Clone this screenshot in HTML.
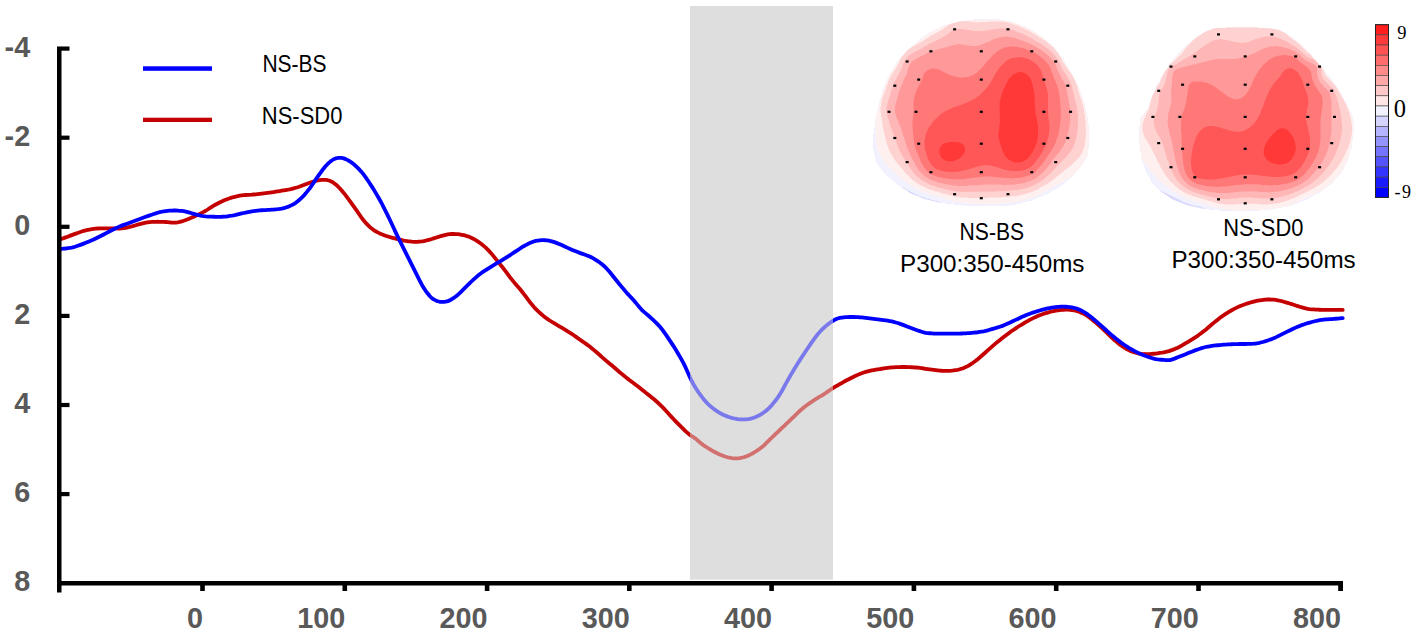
<!DOCTYPE html>
<html><head><meta charset="utf-8"><style>
html,body{margin:0;padding:0;background:#fff;}
body{width:1418px;height:636px;overflow:hidden;position:relative;}
svg{position:absolute;left:0;top:0;}
.tl{font-family:"Liberation Sans",sans-serif;font-weight:bold;fill:#595959;font-size:28.8px;}
.lg{font-family:"Liberation Sans",sans-serif;fill:#000;font-size:23px;}
.cb{font-family:"Liberation Serif",serif;fill:#000;}
</style></head><body>
<svg width="1418" height="636" viewBox="0 0 1418 636">
<defs><clipPath id="gc"><rect x="690" y="6" width="143" height="573.5"/></clipPath></defs>
<rect x="690" y="6" width="143" height="573.5" fill="#dedede"/>
<g fill="none" stroke-width="3.8" stroke-linejoin="round" stroke-linecap="round">
<path d="M59.7,239.28 L61.7,238.79 L63.7,238.13 L65.7,237.41 L67.7,236.66 L69.7,235.90 L71.7,235.14 L73.7,234.39 L75.7,233.65 L77.7,232.93 L79.7,232.21 L81.7,231.52 L83.7,230.90 L85.7,230.38 L87.7,229.93 L89.7,229.55 L91.7,229.24 L93.7,228.95 L95.7,228.69 L97.7,228.48 L99.7,228.35 L101.7,228.31 L103.7,228.30 L105.7,228.30 L107.7,228.30 L109.7,228.31 L111.7,228.34 L113.7,228.40 L115.7,228.47 L117.7,228.54 L119.7,228.55 L121.7,228.42 L123.7,228.13 L125.7,227.76 L127.7,227.35 L129.7,226.91 L131.7,226.40 L133.7,225.84 L135.7,225.25 L137.7,224.66 L139.7,224.10 L141.7,223.56 L143.7,223.06 L145.7,222.61 L147.7,222.26 L149.7,222.06 L151.7,221.96 L153.7,221.88 L155.7,221.82 L157.7,221.77 L159.7,221.78 L161.7,221.83 L163.7,221.91 L165.7,222.01 L167.7,222.17 L169.7,222.41 L171.7,222.64 L173.7,222.72 L175.7,222.58 L177.7,222.29 L179.7,221.88 L181.7,221.34 L183.7,220.71 L185.7,220.02 L187.7,219.27 L189.7,218.45 L191.7,217.59 L193.7,216.72 L195.7,215.82 L197.7,214.88 L199.7,213.91 L201.7,212.92 L203.7,211.88 L205.7,210.74 L207.7,209.50 L209.7,208.20 L211.7,206.90 L213.7,205.66 L215.7,204.52 L217.7,203.48 L219.7,202.48 L221.7,201.51 L223.7,200.60 L225.7,199.78 L227.7,199.03 L229.7,198.31 L231.7,197.63 L233.7,197.03 L235.7,196.54 L237.7,196.11 L239.7,195.72 L241.7,195.38 L243.7,195.13 L245.7,194.99 L247.7,194.89 L249.7,194.79 L251.7,194.67 L253.7,194.50 L255.7,194.29 L257.7,194.06 L259.7,193.82 L261.7,193.59 L263.7,193.35 L265.7,193.12 L267.7,192.88 L269.7,192.63 L271.7,192.35 L273.7,192.04 L275.7,191.71 L277.7,191.37 L279.7,191.04 L281.7,190.71 L283.7,190.39 L285.7,190.07 L287.7,189.73 L289.7,189.34 L291.7,188.87 L293.7,188.34 L295.7,187.79 L297.7,187.21 L299.7,186.55 L301.7,185.82 L303.7,185.04 L305.7,184.25 L307.7,183.48 L309.7,182.78 L311.7,182.15 L313.7,181.54 L315.7,180.98 L317.7,180.49 L319.7,180.15 L321.7,179.94 L323.7,179.84 L325.7,179.90 L327.7,180.21 L329.7,180.79 L331.7,181.67 L333.7,182.90 L335.7,184.42 L337.7,186.22 L339.7,188.30 L341.7,190.54 L343.7,192.90 L345.7,195.41 L347.7,198.06 L349.7,200.78 L351.7,203.52 L353.7,206.28 L355.7,209.12 L357.7,212.05 L359.7,215.01 L361.7,217.88 L363.7,220.51 L365.7,222.81 L367.7,224.88 L369.7,226.83 L371.7,228.58 L373.7,230.04 L375.7,231.27 L377.7,232.39 L379.7,233.43 L381.7,234.32 L383.7,235.08 L385.7,235.77 L387.7,236.43 L389.7,237.03 L391.7,237.59 L393.7,238.11 L395.7,238.63 L397.7,239.13 L399.7,239.61 L401.7,240.08 L403.7,240.54 L405.7,240.93 L407.7,241.24 L409.7,241.48 L411.7,241.68 L413.7,241.82 L415.7,241.84 L417.7,241.76 L419.7,241.62 L421.7,241.42 L423.7,241.10 L425.7,240.65 L427.7,240.12 L429.7,239.57 L431.7,238.99 L433.7,238.36 L435.7,237.72 L437.7,237.07 L439.7,236.44 L441.7,235.86 L443.7,235.30 L445.7,234.79 L447.7,234.36 L449.7,234.11 L451.7,234.02 L453.7,234.01 L455.7,234.05 L457.7,234.18 L459.7,234.43 L461.7,234.78 L463.7,235.19 L465.7,235.69 L467.7,236.32 L469.7,237.08 L471.7,237.95 L473.7,238.95 L475.7,240.10 L477.7,241.36 L479.7,242.74 L481.7,244.25 L483.7,245.88 L485.7,247.65 L487.7,249.58 L489.7,251.66 L491.7,253.90 L493.7,256.34 L495.7,258.88 L497.7,261.40 L499.7,263.86 L501.7,266.29 L503.7,268.79 L505.7,271.43 L507.7,274.15 L509.7,276.85 L511.7,279.42 L513.7,281.87 L515.7,284.23 L517.7,286.50 L519.7,288.79 L521.7,291.22 L523.7,293.81 L525.7,296.47 L527.7,299.15 L529.7,301.79 L531.7,304.32 L533.7,306.69 L535.7,308.86 L537.7,310.86 L539.7,312.73 L541.7,314.48 L543.7,316.15 L545.7,317.72 L547.7,319.16 L549.7,320.49 L551.7,321.74 L553.7,322.94 L555.7,324.13 L557.7,325.31 L559.7,326.51 L561.7,327.71 L563.7,328.92 L565.7,330.13 L567.7,331.34 L569.7,332.60 L571.7,333.91 L573.7,335.28 L575.7,336.67 L577.7,338.07 L579.7,339.47 L581.7,340.86 L583.7,342.26 L585.7,343.66 L587.7,345.09 L589.7,346.59 L591.7,348.18 L593.7,349.84 L595.7,351.56 L597.7,353.30 L599.7,355.05 L601.7,356.81 L603.7,358.58 L605.7,360.32 L607.7,362.01 L609.7,363.66 L611.7,365.31 L613.7,367.01 L615.7,368.76 L617.7,370.50 L619.7,372.21 L621.7,373.86 L623.7,375.49 L625.7,377.13 L627.7,378.76 L629.7,380.35 L631.7,381.85 L633.7,383.29 L635.7,384.74 L637.7,386.24 L639.7,387.81 L641.7,389.39 L643.7,391.00 L645.7,392.61 L647.7,394.22 L649.7,395.83 L651.7,397.43 L653.7,399.04 L655.7,400.72 L657.7,402.48 L659.7,404.32 L661.7,406.29 L663.7,408.39 L665.7,410.58 L667.7,412.79 L669.7,414.99 L671.7,417.16 L673.7,419.30 L675.7,421.37 L677.7,423.40 L679.7,425.40 L681.7,427.40 L683.7,429.38 L685.7,431.31 L687.7,433.09 L689.7,434.69 L691.7,436.11 L693.7,437.42 L695.7,438.81 L697.7,440.45 L699.7,442.23 L701.7,443.88 L703.7,445.36 L705.7,446.72 L707.7,448.01 L709.7,449.24 L711.7,450.41 L713.7,451.52 L715.7,452.56 L717.7,453.54 L719.7,454.46 L721.7,455.29 L723.7,456.05 L725.7,456.72 L727.7,457.28 L729.7,457.74 L731.7,458.09 L733.7,458.31 L735.7,458.41 L737.7,458.36 L739.7,458.13 L741.7,457.73 L743.7,457.22 L745.7,456.57 L747.7,455.80 L749.7,454.91 L751.7,453.88 L753.7,452.73 L755.7,451.49 L757.7,450.19 L759.7,448.80 L761.7,447.30 L763.7,445.59 L765.7,443.68 L767.7,441.67 L769.7,439.68 L771.7,437.75 L773.7,435.83 L775.7,433.93 L777.7,432.02 L779.7,430.12 L781.7,428.23 L783.7,426.35 L785.7,424.47 L787.7,422.57 L789.7,420.66 L791.7,418.72 L793.7,416.78 L795.7,414.83 L797.7,412.88 L799.7,411.00 L801.7,409.23 L803.7,407.58 L805.7,406.00 L807.7,404.51 L809.7,403.08 L811.7,401.71 L813.7,400.40 L815.7,399.16 L817.7,397.95 L819.7,396.74 L821.7,395.53 L823.7,394.29 L825.7,392.99 L827.7,391.62 L829.7,390.20 L831.7,388.84 L833.7,387.60 L835.7,386.45 L837.7,385.33 L839.7,384.19 L841.7,383.03 L843.7,381.88 L845.7,380.77 L847.7,379.72 L849.7,378.70 L851.7,377.71 L853.7,376.74 L855.7,375.80 L857.7,374.88 L859.7,374.01 L861.7,373.21 L863.7,372.51 L865.7,371.90 L867.7,371.39 L869.7,370.92 L871.7,370.47 L873.7,370.07 L875.7,369.71 L877.7,369.38 L879.7,369.06 L881.7,368.75 L883.7,368.45 L885.7,368.17 L887.7,367.90 L889.7,367.66 L891.7,367.46 L893.7,367.32 L895.7,367.20 L897.7,367.10 L899.7,367.04 L901.7,367.01 L903.7,367.00 L905.7,367.01 L907.7,367.05 L909.7,367.12 L911.7,367.23 L913.7,367.35 L915.7,367.50 L917.7,367.70 L919.7,367.95 L921.7,368.23 L923.7,368.50 L925.7,368.78 L927.7,369.06 L929.7,369.33 L931.7,369.61 L933.7,369.87 L935.7,370.12 L937.7,370.35 L939.7,370.57 L941.7,370.75 L943.7,370.86 L945.7,370.89 L947.7,370.89 L949.7,370.84 L951.7,370.70 L953.7,370.45 L955.7,370.13 L957.7,369.77 L959.7,369.30 L961.7,368.66 L963.7,367.91 L965.7,367.09 L967.7,366.15 L969.7,365.01 L971.7,363.70 L973.7,362.30 L975.7,360.84 L977.7,359.26 L979.7,357.56 L981.7,355.79 L983.7,354.00 L985.7,352.21 L987.7,350.42 L989.7,348.63 L991.7,346.84 L993.7,345.10 L995.7,343.41 L997.7,341.78 L999.7,340.17 L1001.7,338.58 L1003.7,337.00 L1005.7,335.45 L1007.7,333.94 L1009.7,332.48 L1011.7,331.07 L1013.7,329.69 L1015.7,328.33 L1017.7,327.02 L1019.7,325.76 L1021.7,324.54 L1023.7,323.34 L1025.7,322.17 L1027.7,321.04 L1029.7,319.95 L1031.7,318.88 L1033.7,317.86 L1035.7,316.93 L1037.7,316.09 L1039.7,315.29 L1041.7,314.52 L1043.7,313.81 L1045.7,313.17 L1047.7,312.56 L1049.7,311.98 L1051.7,311.47 L1053.7,311.04 L1055.7,310.69 L1057.7,310.37 L1059.7,310.09 L1061.7,309.89 L1063.7,309.76 L1065.7,309.67 L1067.7,309.64 L1069.7,309.74 L1071.7,310.00 L1073.7,310.35 L1075.7,310.76 L1077.7,311.31 L1079.7,312.04 L1081.7,312.91 L1083.7,313.85 L1085.7,314.92 L1087.7,316.20 L1089.7,317.69 L1091.7,319.28 L1093.7,320.91 L1095.7,322.60 L1097.7,324.34 L1099.7,326.13 L1101.7,327.94 L1103.7,329.80 L1105.7,331.72 L1107.7,333.70 L1109.7,335.68 L1111.7,337.61 L1113.7,339.45 L1115.7,341.19 L1117.7,342.88 L1119.7,344.50 L1121.7,345.97 L1123.7,347.28 L1125.7,348.50 L1127.7,349.64 L1129.7,350.65 L1131.7,351.47 L1133.7,352.14 L1135.7,352.75 L1137.7,353.27 L1139.7,353.63 L1141.7,353.86 L1143.7,354.02 L1145.7,354.13 L1147.7,354.15 L1149.7,354.06 L1151.7,353.91 L1153.7,353.74 L1155.7,353.53 L1157.7,353.27 L1159.7,352.98 L1161.7,352.68 L1163.7,352.33 L1165.7,351.92 L1167.7,351.43 L1169.7,350.85 L1171.7,350.16 L1173.7,349.39 L1175.7,348.56 L1177.7,347.68 L1179.7,346.68 L1181.7,345.57 L1183.7,344.41 L1185.7,343.23 L1187.7,342.05 L1189.7,340.85 L1191.7,339.64 L1193.7,338.41 L1195.7,337.12 L1197.7,335.74 L1199.7,334.30 L1201.7,332.82 L1203.7,331.29 L1205.7,329.68 L1207.7,327.99 L1209.7,326.26 L1211.7,324.53 L1213.7,322.85 L1215.7,321.23 L1217.7,319.64 L1219.7,318.07 L1221.7,316.58 L1223.7,315.19 L1225.7,313.88 L1227.7,312.60 L1229.7,311.38 L1231.7,310.23 L1233.7,309.15 L1235.7,308.12 L1237.7,307.13 L1239.7,306.23 L1241.7,305.45 L1243.7,304.73 L1245.7,304.04 L1247.7,303.39 L1249.7,302.77 L1251.7,302.18 L1253.7,301.62 L1255.7,301.10 L1257.7,300.67 L1259.7,300.33 L1261.7,300.02 L1263.7,299.76 L1265.7,299.59 L1267.7,299.52 L1269.7,299.51 L1271.7,299.54 L1273.7,299.67 L1275.7,299.95 L1277.7,300.32 L1279.7,300.75 L1281.7,301.21 L1283.7,301.73 L1285.7,302.30 L1287.7,302.90 L1289.7,303.52 L1291.7,304.15 L1293.7,304.80 L1295.7,305.47 L1297.7,306.12 L1299.7,306.74 L1301.7,307.32 L1303.7,307.86 L1305.7,308.38 L1307.7,308.82 L1309.7,309.13 L1311.7,309.32 L1313.7,309.47 L1315.7,309.59 L1317.7,309.69 L1319.7,309.76 L1321.7,309.81 L1323.7,309.85 L1325.7,309.88 L1327.7,309.90 L1329.7,309.90 L1331.7,309.90 L1333.7,309.90 L1335.7,309.90 L1337.7,309.90 L1339.7,309.90 L1341.7,309.90 L1342.7,309.90" stroke="#c40000"/>
<path d="M59.7,249.02 L61.7,248.90 L63.7,248.72 L65.7,248.51 L67.7,248.23 L69.7,247.91 L71.7,247.54 L73.7,247.08 L75.7,246.50 L77.7,245.82 L79.7,245.10 L81.7,244.37 L83.7,243.61 L85.7,242.82 L87.7,242.02 L89.7,241.20 L91.7,240.36 L93.7,239.46 L95.7,238.51 L97.7,237.52 L99.7,236.53 L101.7,235.52 L103.7,234.47 L105.7,233.40 L107.7,232.32 L109.7,231.25 L111.7,230.21 L113.7,229.23 L115.7,228.28 L117.7,227.35 L119.7,226.45 L121.7,225.63 L123.7,224.88 L125.7,224.17 L127.7,223.47 L129.7,222.76 L131.7,222.03 L133.7,221.27 L135.7,220.51 L137.7,219.75 L139.7,218.99 L141.7,218.25 L143.7,217.53 L145.7,216.80 L147.7,216.09 L149.7,215.38 L151.7,214.70 L153.7,214.02 L155.7,213.36 L157.7,212.73 L159.7,212.19 L161.7,211.74 L163.7,211.34 L165.7,211.02 L167.7,210.80 L169.7,210.67 L171.7,210.58 L173.7,210.52 L175.7,210.52 L177.7,210.61 L179.7,210.78 L181.7,210.98 L183.7,211.22 L185.7,211.59 L187.7,212.10 L189.7,212.69 L191.7,213.30 L193.7,213.88 L195.7,214.42 L197.7,214.91 L199.7,215.38 L201.7,215.81 L203.7,216.17 L205.7,216.40 L207.7,216.53 L209.7,216.62 L211.7,216.69 L213.7,216.75 L215.7,216.79 L217.7,216.80 L219.7,216.80 L221.7,216.77 L223.7,216.69 L225.7,216.52 L227.7,216.27 L229.7,215.99 L231.7,215.69 L233.7,215.33 L235.7,214.90 L237.7,214.42 L239.7,213.94 L241.7,213.47 L243.7,213.02 L245.7,212.60 L247.7,212.20 L249.7,211.81 L251.7,211.45 L253.7,211.15 L255.7,210.89 L257.7,210.66 L259.7,210.44 L261.7,210.26 L263.7,210.13 L265.7,210.03 L267.7,209.94 L269.7,209.84 L271.7,209.70 L273.7,209.54 L275.7,209.35 L277.7,209.15 L279.7,208.89 L281.7,208.53 L283.7,208.07 L285.7,207.54 L287.7,206.89 L289.7,206.08 L291.7,205.13 L293.7,204.06 L295.7,202.80 L297.7,201.27 L299.7,199.56 L301.7,197.71 L303.7,195.64 L305.7,193.34 L307.7,190.88 L309.7,188.31 L311.7,185.55 L313.7,182.62 L315.7,179.62 L317.7,176.67 L319.7,173.82 L321.7,171.08 L323.7,168.44 L325.7,166.03 L327.7,163.94 L329.7,162.11 L331.7,160.50 L333.7,159.24 L335.7,158.43 L337.7,157.98 L339.7,157.83 L341.7,157.97 L343.7,158.39 L345.7,159.11 L347.7,160.09 L349.7,161.24 L351.7,162.57 L353.7,164.17 L355.7,165.98 L357.7,167.91 L359.7,169.94 L361.7,172.14 L363.7,174.61 L365.7,177.36 L367.7,180.29 L369.7,183.29 L371.7,186.38 L373.7,189.59 L375.7,192.89 L377.7,196.26 L379.7,199.74 L381.7,203.43 L383.7,207.32 L385.7,211.31 L387.7,215.36 L389.7,219.51 L391.7,223.76 L393.7,228.07 L395.7,232.36 L397.7,236.57 L399.7,240.67 L401.7,244.70 L403.7,248.70 L405.7,252.70 L407.7,256.70 L409.7,260.70 L411.7,264.70 L413.7,268.70 L415.7,272.70 L417.7,276.70 L419.7,280.66 L421.7,284.45 L423.7,287.85 L425.7,290.81 L427.7,293.51 L429.7,295.98 L431.7,297.99 L433.7,299.39 L435.7,300.40 L437.7,301.21 L439.7,301.77 L441.7,301.97 L443.7,301.88 L445.7,301.64 L447.7,301.19 L449.7,300.38 L451.7,299.25 L453.7,297.95 L455.7,296.54 L457.7,294.94 L459.7,293.13 L461.7,291.19 L463.7,289.20 L465.7,287.20 L467.7,285.20 L469.7,283.21 L471.7,281.26 L473.7,279.37 L475.7,277.57 L477.7,275.84 L479.7,274.24 L481.7,272.77 L483.7,271.38 L485.7,270.05 L487.7,268.78 L489.7,267.55 L491.7,266.33 L493.7,265.11 L495.7,263.91 L497.7,262.71 L499.7,261.53 L501.7,260.34 L503.7,259.13 L505.7,257.88 L507.7,256.59 L509.7,255.29 L511.7,253.99 L513.7,252.69 L515.7,251.38 L517.7,250.06 L519.7,248.74 L521.7,247.45 L523.7,246.24 L525.7,245.11 L527.7,244.06 L529.7,243.09 L531.7,242.24 L533.7,241.49 L535.7,240.92 L537.7,240.55 L539.7,240.33 L541.7,240.22 L543.7,240.19 L545.7,240.27 L547.7,240.46 L549.7,240.81 L551.7,241.31 L553.7,241.92 L555.7,242.61 L557.7,243.38 L559.7,244.21 L561.7,245.08 L563.7,245.99 L565.7,246.92 L567.7,247.85 L569.7,248.77 L571.7,249.65 L573.7,250.48 L575.7,251.30 L577.7,252.10 L579.7,252.88 L581.7,253.61 L583.7,254.30 L585.7,254.97 L587.7,255.68 L589.7,256.49 L591.7,257.47 L593.7,258.60 L595.7,259.82 L597.7,261.12 L599.7,262.51 L601.7,264.02 L603.7,265.73 L605.7,267.65 L607.7,269.72 L609.7,272.00 L611.7,274.47 L613.7,277.02 L615.7,279.55 L617.7,282.01 L619.7,284.44 L621.7,286.86 L623.7,289.27 L625.7,291.64 L627.7,293.92 L629.7,296.06 L631.7,298.14 L633.7,300.31 L635.7,302.65 L637.7,305.13 L639.7,307.57 L641.7,309.78 L643.7,311.66 L645.7,313.34 L647.7,315.01 L649.7,316.75 L651.7,318.55 L653.7,320.40 L655.7,322.33 L657.7,324.35 L659.7,326.52 L661.7,328.94 L663.7,331.61 L665.7,334.44 L667.7,337.37 L669.7,340.35 L671.7,343.34 L673.7,346.39 L675.7,349.56 L677.7,352.92 L679.7,356.40 L681.7,359.94 L683.7,363.63 L685.7,367.69 L687.7,372.18 L689.7,376.76 L691.7,381.00 L693.7,384.74 L695.7,388.07 L697.7,391.14 L699.7,394.01 L701.7,396.68 L703.7,399.22 L705.7,401.59 L707.7,403.71 L709.7,405.58 L711.7,407.30 L713.7,408.88 L715.7,410.34 L717.7,411.68 L719.7,412.90 L721.7,413.99 L723.7,414.98 L725.7,415.86 L727.7,416.62 L729.7,417.28 L731.7,417.86 L733.7,418.35 L735.7,418.75 L737.7,419.07 L739.7,419.29 L741.7,419.42 L743.7,419.45 L745.7,419.36 L747.7,419.15 L749.7,418.83 L751.7,418.35 L753.7,417.73 L755.7,416.99 L757.7,416.09 L759.7,415.04 L761.7,413.86 L763.7,412.51 L765.7,410.99 L767.7,409.29 L769.7,407.36 L771.7,405.16 L773.7,402.79 L775.7,400.27 L777.7,397.57 L779.7,394.61 L781.7,391.29 L783.7,387.66 L785.7,383.94 L787.7,380.31 L789.7,376.78 L791.7,373.33 L793.7,369.97 L795.7,366.72 L797.7,363.53 L799.7,360.37 L801.7,357.25 L803.7,354.19 L805.7,351.20 L807.7,348.25 L809.7,345.31 L811.7,342.40 L813.7,339.54 L815.7,336.81 L817.7,334.28 L819.7,331.99 L821.7,329.91 L823.7,327.97 L825.7,326.15 L827.7,324.47 L829.7,322.95 L831.7,321.58 L833.7,320.35 L835.7,319.30 L837.7,318.51 L839.7,317.94 L841.7,317.55 L843.7,317.31 L845.7,317.17 L847.7,317.07 L849.7,317.00 L851.7,316.97 L853.7,317.00 L855.7,317.07 L857.7,317.16 L859.7,317.27 L861.7,317.44 L863.7,317.67 L865.7,317.93 L867.7,318.20 L869.7,318.47 L871.7,318.72 L873.7,318.96 L875.7,319.19 L877.7,319.42 L879.7,319.66 L881.7,319.91 L883.7,320.18 L885.7,320.45 L887.7,320.73 L889.7,321.06 L891.7,321.47 L893.7,321.96 L895.7,322.48 L897.7,323.04 L899.7,323.67 L901.7,324.38 L903.7,325.13 L905.7,325.90 L907.7,326.67 L909.7,327.44 L911.7,328.22 L913.7,329.00 L915.7,329.75 L917.7,330.46 L919.7,331.14 L921.7,331.78 L923.7,332.36 L925.7,332.80 L927.7,333.08 L929.7,333.26 L931.7,333.41 L933.7,333.53 L935.7,333.58 L937.7,333.60 L939.7,333.60 L941.7,333.60 L943.7,333.60 L945.7,333.60 L947.7,333.60 L949.7,333.60 L951.7,333.60 L953.7,333.60 L955.7,333.60 L957.7,333.59 L959.7,333.56 L961.7,333.50 L963.7,333.41 L965.7,333.32 L967.7,333.20 L969.7,333.06 L971.7,332.88 L973.7,332.70 L975.7,332.49 L977.7,332.25 L979.7,331.95 L981.7,331.63 L983.7,331.28 L985.7,330.86 L987.7,330.35 L989.7,329.77 L991.7,329.18 L993.7,328.58 L995.7,327.98 L997.7,327.37 L999.7,326.76 L1001.7,326.10 L1003.7,325.35 L1005.7,324.50 L1007.7,323.60 L1009.7,322.67 L1011.7,321.74 L1013.7,320.80 L1015.7,319.86 L1017.7,318.92 L1019.7,317.98 L1021.7,317.06 L1023.7,316.14 L1025.7,315.28 L1027.7,314.49 L1029.7,313.75 L1031.7,313.04 L1033.7,312.35 L1035.7,311.69 L1037.7,311.07 L1039.7,310.46 L1041.7,309.88 L1043.7,309.36 L1045.7,308.90 L1047.7,308.47 L1049.7,308.07 L1051.7,307.71 L1053.7,307.41 L1055.7,307.16 L1057.7,306.94 L1059.7,306.77 L1061.7,306.68 L1063.7,306.68 L1065.7,306.73 L1067.7,306.83 L1069.7,307.04 L1071.7,307.38 L1073.7,307.81 L1075.7,308.30 L1077.7,308.93 L1079.7,309.78 L1081.7,310.78 L1083.7,311.85 L1085.7,313.03 L1087.7,314.39 L1089.7,315.93 L1091.7,317.54 L1093.7,319.19 L1095.7,320.87 L1097.7,322.61 L1099.7,324.37 L1101.7,326.15 L1103.7,327.93 L1105.7,329.73 L1107.7,331.54 L1109.7,333.34 L1111.7,335.11 L1113.7,336.80 L1115.7,338.44 L1117.7,340.04 L1119.7,341.60 L1121.7,343.07 L1123.7,344.45 L1125.7,345.77 L1127.7,347.07 L1129.7,348.31 L1131.7,349.47 L1133.7,350.58 L1135.7,351.66 L1137.7,352.68 L1139.7,353.61 L1141.7,354.46 L1143.7,355.27 L1145.7,356.04 L1147.7,356.75 L1149.7,357.40 L1151.7,358.01 L1153.7,358.58 L1155.7,359.03 L1157.7,359.35 L1159.7,359.57 L1161.7,359.76 L1163.7,359.93 L1165.7,360.08 L1167.7,360.16 L1169.7,360.04 L1171.7,359.60 L1173.7,358.92 L1175.7,358.14 L1177.7,357.35 L1179.7,356.55 L1181.7,355.75 L1183.7,354.95 L1185.7,354.14 L1187.7,353.33 L1189.7,352.52 L1191.7,351.71 L1193.7,350.91 L1195.7,350.14 L1197.7,349.42 L1199.7,348.74 L1201.7,348.08 L1203.7,347.49 L1205.7,347.00 L1207.7,346.61 L1209.7,346.27 L1211.7,345.96 L1213.7,345.69 L1215.7,345.45 L1217.7,345.24 L1219.7,345.04 L1221.7,344.86 L1223.7,344.71 L1225.7,344.58 L1227.7,344.47 L1229.7,344.36 L1231.7,344.27 L1233.7,344.19 L1235.7,344.12 L1237.7,344.06 L1239.7,344.02 L1241.7,344.00 L1243.7,344.00 L1245.7,343.99 L1247.7,343.96 L1249.7,343.90 L1251.7,343.82 L1253.7,343.71 L1255.7,343.52 L1257.7,343.21 L1259.7,342.77 L1261.7,342.26 L1263.7,341.73 L1265.7,341.14 L1267.7,340.49 L1269.7,339.81 L1271.7,339.09 L1273.7,338.30 L1275.7,337.39 L1277.7,336.40 L1279.7,335.38 L1281.7,334.37 L1283.7,333.37 L1285.7,332.39 L1287.7,331.41 L1289.7,330.45 L1291.7,329.49 L1293.7,328.56 L1295.7,327.64 L1297.7,326.75 L1299.7,325.91 L1301.7,325.15 L1303.7,324.46 L1305.7,323.79 L1307.7,323.15 L1309.7,322.56 L1311.7,322.01 L1313.7,321.48 L1315.7,320.99 L1317.7,320.57 L1319.7,320.24 L1321.7,319.95 L1323.7,319.68 L1325.7,319.46 L1327.7,319.30 L1329.7,319.17 L1331.7,319.04 L1333.7,318.91 L1335.7,318.74 L1337.7,318.54 L1339.7,318.34 L1341.7,318.17 L1342.7,318.11" stroke="#0000ff"/>
</g>
<g clip-path="url(#gc)">
<rect x="690" y="6" width="143" height="573.5" fill="#dedede"/>
<g fill="none" stroke-width="3.8" stroke-linejoin="round" stroke-linecap="round">
<path d="M59.7,239.28 L61.7,238.79 L63.7,238.13 L65.7,237.41 L67.7,236.66 L69.7,235.90 L71.7,235.14 L73.7,234.39 L75.7,233.65 L77.7,232.93 L79.7,232.21 L81.7,231.52 L83.7,230.90 L85.7,230.38 L87.7,229.93 L89.7,229.55 L91.7,229.24 L93.7,228.95 L95.7,228.69 L97.7,228.48 L99.7,228.35 L101.7,228.31 L103.7,228.30 L105.7,228.30 L107.7,228.30 L109.7,228.31 L111.7,228.34 L113.7,228.40 L115.7,228.47 L117.7,228.54 L119.7,228.55 L121.7,228.42 L123.7,228.13 L125.7,227.76 L127.7,227.35 L129.7,226.91 L131.7,226.40 L133.7,225.84 L135.7,225.25 L137.7,224.66 L139.7,224.10 L141.7,223.56 L143.7,223.06 L145.7,222.61 L147.7,222.26 L149.7,222.06 L151.7,221.96 L153.7,221.88 L155.7,221.82 L157.7,221.77 L159.7,221.78 L161.7,221.83 L163.7,221.91 L165.7,222.01 L167.7,222.17 L169.7,222.41 L171.7,222.64 L173.7,222.72 L175.7,222.58 L177.7,222.29 L179.7,221.88 L181.7,221.34 L183.7,220.71 L185.7,220.02 L187.7,219.27 L189.7,218.45 L191.7,217.59 L193.7,216.72 L195.7,215.82 L197.7,214.88 L199.7,213.91 L201.7,212.92 L203.7,211.88 L205.7,210.74 L207.7,209.50 L209.7,208.20 L211.7,206.90 L213.7,205.66 L215.7,204.52 L217.7,203.48 L219.7,202.48 L221.7,201.51 L223.7,200.60 L225.7,199.78 L227.7,199.03 L229.7,198.31 L231.7,197.63 L233.7,197.03 L235.7,196.54 L237.7,196.11 L239.7,195.72 L241.7,195.38 L243.7,195.13 L245.7,194.99 L247.7,194.89 L249.7,194.79 L251.7,194.67 L253.7,194.50 L255.7,194.29 L257.7,194.06 L259.7,193.82 L261.7,193.59 L263.7,193.35 L265.7,193.12 L267.7,192.88 L269.7,192.63 L271.7,192.35 L273.7,192.04 L275.7,191.71 L277.7,191.37 L279.7,191.04 L281.7,190.71 L283.7,190.39 L285.7,190.07 L287.7,189.73 L289.7,189.34 L291.7,188.87 L293.7,188.34 L295.7,187.79 L297.7,187.21 L299.7,186.55 L301.7,185.82 L303.7,185.04 L305.7,184.25 L307.7,183.48 L309.7,182.78 L311.7,182.15 L313.7,181.54 L315.7,180.98 L317.7,180.49 L319.7,180.15 L321.7,179.94 L323.7,179.84 L325.7,179.90 L327.7,180.21 L329.7,180.79 L331.7,181.67 L333.7,182.90 L335.7,184.42 L337.7,186.22 L339.7,188.30 L341.7,190.54 L343.7,192.90 L345.7,195.41 L347.7,198.06 L349.7,200.78 L351.7,203.52 L353.7,206.28 L355.7,209.12 L357.7,212.05 L359.7,215.01 L361.7,217.88 L363.7,220.51 L365.7,222.81 L367.7,224.88 L369.7,226.83 L371.7,228.58 L373.7,230.04 L375.7,231.27 L377.7,232.39 L379.7,233.43 L381.7,234.32 L383.7,235.08 L385.7,235.77 L387.7,236.43 L389.7,237.03 L391.7,237.59 L393.7,238.11 L395.7,238.63 L397.7,239.13 L399.7,239.61 L401.7,240.08 L403.7,240.54 L405.7,240.93 L407.7,241.24 L409.7,241.48 L411.7,241.68 L413.7,241.82 L415.7,241.84 L417.7,241.76 L419.7,241.62 L421.7,241.42 L423.7,241.10 L425.7,240.65 L427.7,240.12 L429.7,239.57 L431.7,238.99 L433.7,238.36 L435.7,237.72 L437.7,237.07 L439.7,236.44 L441.7,235.86 L443.7,235.30 L445.7,234.79 L447.7,234.36 L449.7,234.11 L451.7,234.02 L453.7,234.01 L455.7,234.05 L457.7,234.18 L459.7,234.43 L461.7,234.78 L463.7,235.19 L465.7,235.69 L467.7,236.32 L469.7,237.08 L471.7,237.95 L473.7,238.95 L475.7,240.10 L477.7,241.36 L479.7,242.74 L481.7,244.25 L483.7,245.88 L485.7,247.65 L487.7,249.58 L489.7,251.66 L491.7,253.90 L493.7,256.34 L495.7,258.88 L497.7,261.40 L499.7,263.86 L501.7,266.29 L503.7,268.79 L505.7,271.43 L507.7,274.15 L509.7,276.85 L511.7,279.42 L513.7,281.87 L515.7,284.23 L517.7,286.50 L519.7,288.79 L521.7,291.22 L523.7,293.81 L525.7,296.47 L527.7,299.15 L529.7,301.79 L531.7,304.32 L533.7,306.69 L535.7,308.86 L537.7,310.86 L539.7,312.73 L541.7,314.48 L543.7,316.15 L545.7,317.72 L547.7,319.16 L549.7,320.49 L551.7,321.74 L553.7,322.94 L555.7,324.13 L557.7,325.31 L559.7,326.51 L561.7,327.71 L563.7,328.92 L565.7,330.13 L567.7,331.34 L569.7,332.60 L571.7,333.91 L573.7,335.28 L575.7,336.67 L577.7,338.07 L579.7,339.47 L581.7,340.86 L583.7,342.26 L585.7,343.66 L587.7,345.09 L589.7,346.59 L591.7,348.18 L593.7,349.84 L595.7,351.56 L597.7,353.30 L599.7,355.05 L601.7,356.81 L603.7,358.58 L605.7,360.32 L607.7,362.01 L609.7,363.66 L611.7,365.31 L613.7,367.01 L615.7,368.76 L617.7,370.50 L619.7,372.21 L621.7,373.86 L623.7,375.49 L625.7,377.13 L627.7,378.76 L629.7,380.35 L631.7,381.85 L633.7,383.29 L635.7,384.74 L637.7,386.24 L639.7,387.81 L641.7,389.39 L643.7,391.00 L645.7,392.61 L647.7,394.22 L649.7,395.83 L651.7,397.43 L653.7,399.04 L655.7,400.72 L657.7,402.48 L659.7,404.32 L661.7,406.29 L663.7,408.39 L665.7,410.58 L667.7,412.79 L669.7,414.99 L671.7,417.16 L673.7,419.30 L675.7,421.37 L677.7,423.40 L679.7,425.40 L681.7,427.40 L683.7,429.38 L685.7,431.31 L687.7,433.09 L689.7,434.69 L691.7,436.11 L693.7,437.42 L695.7,438.81 L697.7,440.45 L699.7,442.23 L701.7,443.88 L703.7,445.36 L705.7,446.72 L707.7,448.01 L709.7,449.24 L711.7,450.41 L713.7,451.52 L715.7,452.56 L717.7,453.54 L719.7,454.46 L721.7,455.29 L723.7,456.05 L725.7,456.72 L727.7,457.28 L729.7,457.74 L731.7,458.09 L733.7,458.31 L735.7,458.41 L737.7,458.36 L739.7,458.13 L741.7,457.73 L743.7,457.22 L745.7,456.57 L747.7,455.80 L749.7,454.91 L751.7,453.88 L753.7,452.73 L755.7,451.49 L757.7,450.19 L759.7,448.80 L761.7,447.30 L763.7,445.59 L765.7,443.68 L767.7,441.67 L769.7,439.68 L771.7,437.75 L773.7,435.83 L775.7,433.93 L777.7,432.02 L779.7,430.12 L781.7,428.23 L783.7,426.35 L785.7,424.47 L787.7,422.57 L789.7,420.66 L791.7,418.72 L793.7,416.78 L795.7,414.83 L797.7,412.88 L799.7,411.00 L801.7,409.23 L803.7,407.58 L805.7,406.00 L807.7,404.51 L809.7,403.08 L811.7,401.71 L813.7,400.40 L815.7,399.16 L817.7,397.95 L819.7,396.74 L821.7,395.53 L823.7,394.29 L825.7,392.99 L827.7,391.62 L829.7,390.20 L831.7,388.84 L833.7,387.60 L835.7,386.45 L837.7,385.33 L839.7,384.19 L841.7,383.03 L843.7,381.88 L845.7,380.77 L847.7,379.72 L849.7,378.70 L851.7,377.71 L853.7,376.74 L855.7,375.80 L857.7,374.88 L859.7,374.01 L861.7,373.21 L863.7,372.51 L865.7,371.90 L867.7,371.39 L869.7,370.92 L871.7,370.47 L873.7,370.07 L875.7,369.71 L877.7,369.38 L879.7,369.06 L881.7,368.75 L883.7,368.45 L885.7,368.17 L887.7,367.90 L889.7,367.66 L891.7,367.46 L893.7,367.32 L895.7,367.20 L897.7,367.10 L899.7,367.04 L901.7,367.01 L903.7,367.00 L905.7,367.01 L907.7,367.05 L909.7,367.12 L911.7,367.23 L913.7,367.35 L915.7,367.50 L917.7,367.70 L919.7,367.95 L921.7,368.23 L923.7,368.50 L925.7,368.78 L927.7,369.06 L929.7,369.33 L931.7,369.61 L933.7,369.87 L935.7,370.12 L937.7,370.35 L939.7,370.57 L941.7,370.75 L943.7,370.86 L945.7,370.89 L947.7,370.89 L949.7,370.84 L951.7,370.70 L953.7,370.45 L955.7,370.13 L957.7,369.77 L959.7,369.30 L961.7,368.66 L963.7,367.91 L965.7,367.09 L967.7,366.15 L969.7,365.01 L971.7,363.70 L973.7,362.30 L975.7,360.84 L977.7,359.26 L979.7,357.56 L981.7,355.79 L983.7,354.00 L985.7,352.21 L987.7,350.42 L989.7,348.63 L991.7,346.84 L993.7,345.10 L995.7,343.41 L997.7,341.78 L999.7,340.17 L1001.7,338.58 L1003.7,337.00 L1005.7,335.45 L1007.7,333.94 L1009.7,332.48 L1011.7,331.07 L1013.7,329.69 L1015.7,328.33 L1017.7,327.02 L1019.7,325.76 L1021.7,324.54 L1023.7,323.34 L1025.7,322.17 L1027.7,321.04 L1029.7,319.95 L1031.7,318.88 L1033.7,317.86 L1035.7,316.93 L1037.7,316.09 L1039.7,315.29 L1041.7,314.52 L1043.7,313.81 L1045.7,313.17 L1047.7,312.56 L1049.7,311.98 L1051.7,311.47 L1053.7,311.04 L1055.7,310.69 L1057.7,310.37 L1059.7,310.09 L1061.7,309.89 L1063.7,309.76 L1065.7,309.67 L1067.7,309.64 L1069.7,309.74 L1071.7,310.00 L1073.7,310.35 L1075.7,310.76 L1077.7,311.31 L1079.7,312.04 L1081.7,312.91 L1083.7,313.85 L1085.7,314.92 L1087.7,316.20 L1089.7,317.69 L1091.7,319.28 L1093.7,320.91 L1095.7,322.60 L1097.7,324.34 L1099.7,326.13 L1101.7,327.94 L1103.7,329.80 L1105.7,331.72 L1107.7,333.70 L1109.7,335.68 L1111.7,337.61 L1113.7,339.45 L1115.7,341.19 L1117.7,342.88 L1119.7,344.50 L1121.7,345.97 L1123.7,347.28 L1125.7,348.50 L1127.7,349.64 L1129.7,350.65 L1131.7,351.47 L1133.7,352.14 L1135.7,352.75 L1137.7,353.27 L1139.7,353.63 L1141.7,353.86 L1143.7,354.02 L1145.7,354.13 L1147.7,354.15 L1149.7,354.06 L1151.7,353.91 L1153.7,353.74 L1155.7,353.53 L1157.7,353.27 L1159.7,352.98 L1161.7,352.68 L1163.7,352.33 L1165.7,351.92 L1167.7,351.43 L1169.7,350.85 L1171.7,350.16 L1173.7,349.39 L1175.7,348.56 L1177.7,347.68 L1179.7,346.68 L1181.7,345.57 L1183.7,344.41 L1185.7,343.23 L1187.7,342.05 L1189.7,340.85 L1191.7,339.64 L1193.7,338.41 L1195.7,337.12 L1197.7,335.74 L1199.7,334.30 L1201.7,332.82 L1203.7,331.29 L1205.7,329.68 L1207.7,327.99 L1209.7,326.26 L1211.7,324.53 L1213.7,322.85 L1215.7,321.23 L1217.7,319.64 L1219.7,318.07 L1221.7,316.58 L1223.7,315.19 L1225.7,313.88 L1227.7,312.60 L1229.7,311.38 L1231.7,310.23 L1233.7,309.15 L1235.7,308.12 L1237.7,307.13 L1239.7,306.23 L1241.7,305.45 L1243.7,304.73 L1245.7,304.04 L1247.7,303.39 L1249.7,302.77 L1251.7,302.18 L1253.7,301.62 L1255.7,301.10 L1257.7,300.67 L1259.7,300.33 L1261.7,300.02 L1263.7,299.76 L1265.7,299.59 L1267.7,299.52 L1269.7,299.51 L1271.7,299.54 L1273.7,299.67 L1275.7,299.95 L1277.7,300.32 L1279.7,300.75 L1281.7,301.21 L1283.7,301.73 L1285.7,302.30 L1287.7,302.90 L1289.7,303.52 L1291.7,304.15 L1293.7,304.80 L1295.7,305.47 L1297.7,306.12 L1299.7,306.74 L1301.7,307.32 L1303.7,307.86 L1305.7,308.38 L1307.7,308.82 L1309.7,309.13 L1311.7,309.32 L1313.7,309.47 L1315.7,309.59 L1317.7,309.69 L1319.7,309.76 L1321.7,309.81 L1323.7,309.85 L1325.7,309.88 L1327.7,309.90 L1329.7,309.90 L1331.7,309.90 L1333.7,309.90 L1335.7,309.90 L1337.7,309.90 L1339.7,309.90 L1341.7,309.90 L1342.7,309.90" stroke="#d27070"/>
<path d="M59.7,249.02 L61.7,248.90 L63.7,248.72 L65.7,248.51 L67.7,248.23 L69.7,247.91 L71.7,247.54 L73.7,247.08 L75.7,246.50 L77.7,245.82 L79.7,245.10 L81.7,244.37 L83.7,243.61 L85.7,242.82 L87.7,242.02 L89.7,241.20 L91.7,240.36 L93.7,239.46 L95.7,238.51 L97.7,237.52 L99.7,236.53 L101.7,235.52 L103.7,234.47 L105.7,233.40 L107.7,232.32 L109.7,231.25 L111.7,230.21 L113.7,229.23 L115.7,228.28 L117.7,227.35 L119.7,226.45 L121.7,225.63 L123.7,224.88 L125.7,224.17 L127.7,223.47 L129.7,222.76 L131.7,222.03 L133.7,221.27 L135.7,220.51 L137.7,219.75 L139.7,218.99 L141.7,218.25 L143.7,217.53 L145.7,216.80 L147.7,216.09 L149.7,215.38 L151.7,214.70 L153.7,214.02 L155.7,213.36 L157.7,212.73 L159.7,212.19 L161.7,211.74 L163.7,211.34 L165.7,211.02 L167.7,210.80 L169.7,210.67 L171.7,210.58 L173.7,210.52 L175.7,210.52 L177.7,210.61 L179.7,210.78 L181.7,210.98 L183.7,211.22 L185.7,211.59 L187.7,212.10 L189.7,212.69 L191.7,213.30 L193.7,213.88 L195.7,214.42 L197.7,214.91 L199.7,215.38 L201.7,215.81 L203.7,216.17 L205.7,216.40 L207.7,216.53 L209.7,216.62 L211.7,216.69 L213.7,216.75 L215.7,216.79 L217.7,216.80 L219.7,216.80 L221.7,216.77 L223.7,216.69 L225.7,216.52 L227.7,216.27 L229.7,215.99 L231.7,215.69 L233.7,215.33 L235.7,214.90 L237.7,214.42 L239.7,213.94 L241.7,213.47 L243.7,213.02 L245.7,212.60 L247.7,212.20 L249.7,211.81 L251.7,211.45 L253.7,211.15 L255.7,210.89 L257.7,210.66 L259.7,210.44 L261.7,210.26 L263.7,210.13 L265.7,210.03 L267.7,209.94 L269.7,209.84 L271.7,209.70 L273.7,209.54 L275.7,209.35 L277.7,209.15 L279.7,208.89 L281.7,208.53 L283.7,208.07 L285.7,207.54 L287.7,206.89 L289.7,206.08 L291.7,205.13 L293.7,204.06 L295.7,202.80 L297.7,201.27 L299.7,199.56 L301.7,197.71 L303.7,195.64 L305.7,193.34 L307.7,190.88 L309.7,188.31 L311.7,185.55 L313.7,182.62 L315.7,179.62 L317.7,176.67 L319.7,173.82 L321.7,171.08 L323.7,168.44 L325.7,166.03 L327.7,163.94 L329.7,162.11 L331.7,160.50 L333.7,159.24 L335.7,158.43 L337.7,157.98 L339.7,157.83 L341.7,157.97 L343.7,158.39 L345.7,159.11 L347.7,160.09 L349.7,161.24 L351.7,162.57 L353.7,164.17 L355.7,165.98 L357.7,167.91 L359.7,169.94 L361.7,172.14 L363.7,174.61 L365.7,177.36 L367.7,180.29 L369.7,183.29 L371.7,186.38 L373.7,189.59 L375.7,192.89 L377.7,196.26 L379.7,199.74 L381.7,203.43 L383.7,207.32 L385.7,211.31 L387.7,215.36 L389.7,219.51 L391.7,223.76 L393.7,228.07 L395.7,232.36 L397.7,236.57 L399.7,240.67 L401.7,244.70 L403.7,248.70 L405.7,252.70 L407.7,256.70 L409.7,260.70 L411.7,264.70 L413.7,268.70 L415.7,272.70 L417.7,276.70 L419.7,280.66 L421.7,284.45 L423.7,287.85 L425.7,290.81 L427.7,293.51 L429.7,295.98 L431.7,297.99 L433.7,299.39 L435.7,300.40 L437.7,301.21 L439.7,301.77 L441.7,301.97 L443.7,301.88 L445.7,301.64 L447.7,301.19 L449.7,300.38 L451.7,299.25 L453.7,297.95 L455.7,296.54 L457.7,294.94 L459.7,293.13 L461.7,291.19 L463.7,289.20 L465.7,287.20 L467.7,285.20 L469.7,283.21 L471.7,281.26 L473.7,279.37 L475.7,277.57 L477.7,275.84 L479.7,274.24 L481.7,272.77 L483.7,271.38 L485.7,270.05 L487.7,268.78 L489.7,267.55 L491.7,266.33 L493.7,265.11 L495.7,263.91 L497.7,262.71 L499.7,261.53 L501.7,260.34 L503.7,259.13 L505.7,257.88 L507.7,256.59 L509.7,255.29 L511.7,253.99 L513.7,252.69 L515.7,251.38 L517.7,250.06 L519.7,248.74 L521.7,247.45 L523.7,246.24 L525.7,245.11 L527.7,244.06 L529.7,243.09 L531.7,242.24 L533.7,241.49 L535.7,240.92 L537.7,240.55 L539.7,240.33 L541.7,240.22 L543.7,240.19 L545.7,240.27 L547.7,240.46 L549.7,240.81 L551.7,241.31 L553.7,241.92 L555.7,242.61 L557.7,243.38 L559.7,244.21 L561.7,245.08 L563.7,245.99 L565.7,246.92 L567.7,247.85 L569.7,248.77 L571.7,249.65 L573.7,250.48 L575.7,251.30 L577.7,252.10 L579.7,252.88 L581.7,253.61 L583.7,254.30 L585.7,254.97 L587.7,255.68 L589.7,256.49 L591.7,257.47 L593.7,258.60 L595.7,259.82 L597.7,261.12 L599.7,262.51 L601.7,264.02 L603.7,265.73 L605.7,267.65 L607.7,269.72 L609.7,272.00 L611.7,274.47 L613.7,277.02 L615.7,279.55 L617.7,282.01 L619.7,284.44 L621.7,286.86 L623.7,289.27 L625.7,291.64 L627.7,293.92 L629.7,296.06 L631.7,298.14 L633.7,300.31 L635.7,302.65 L637.7,305.13 L639.7,307.57 L641.7,309.78 L643.7,311.66 L645.7,313.34 L647.7,315.01 L649.7,316.75 L651.7,318.55 L653.7,320.40 L655.7,322.33 L657.7,324.35 L659.7,326.52 L661.7,328.94 L663.7,331.61 L665.7,334.44 L667.7,337.37 L669.7,340.35 L671.7,343.34 L673.7,346.39 L675.7,349.56 L677.7,352.92 L679.7,356.40 L681.7,359.94 L683.7,363.63 L685.7,367.69 L687.7,372.18 L689.7,376.76 L691.7,381.00 L693.7,384.74 L695.7,388.07 L697.7,391.14 L699.7,394.01 L701.7,396.68 L703.7,399.22 L705.7,401.59 L707.7,403.71 L709.7,405.58 L711.7,407.30 L713.7,408.88 L715.7,410.34 L717.7,411.68 L719.7,412.90 L721.7,413.99 L723.7,414.98 L725.7,415.86 L727.7,416.62 L729.7,417.28 L731.7,417.86 L733.7,418.35 L735.7,418.75 L737.7,419.07 L739.7,419.29 L741.7,419.42 L743.7,419.45 L745.7,419.36 L747.7,419.15 L749.7,418.83 L751.7,418.35 L753.7,417.73 L755.7,416.99 L757.7,416.09 L759.7,415.04 L761.7,413.86 L763.7,412.51 L765.7,410.99 L767.7,409.29 L769.7,407.36 L771.7,405.16 L773.7,402.79 L775.7,400.27 L777.7,397.57 L779.7,394.61 L781.7,391.29 L783.7,387.66 L785.7,383.94 L787.7,380.31 L789.7,376.78 L791.7,373.33 L793.7,369.97 L795.7,366.72 L797.7,363.53 L799.7,360.37 L801.7,357.25 L803.7,354.19 L805.7,351.20 L807.7,348.25 L809.7,345.31 L811.7,342.40 L813.7,339.54 L815.7,336.81 L817.7,334.28 L819.7,331.99 L821.7,329.91 L823.7,327.97 L825.7,326.15 L827.7,324.47 L829.7,322.95 L831.7,321.58 L833.7,320.35 L835.7,319.30 L837.7,318.51 L839.7,317.94 L841.7,317.55 L843.7,317.31 L845.7,317.17 L847.7,317.07 L849.7,317.00 L851.7,316.97 L853.7,317.00 L855.7,317.07 L857.7,317.16 L859.7,317.27 L861.7,317.44 L863.7,317.67 L865.7,317.93 L867.7,318.20 L869.7,318.47 L871.7,318.72 L873.7,318.96 L875.7,319.19 L877.7,319.42 L879.7,319.66 L881.7,319.91 L883.7,320.18 L885.7,320.45 L887.7,320.73 L889.7,321.06 L891.7,321.47 L893.7,321.96 L895.7,322.48 L897.7,323.04 L899.7,323.67 L901.7,324.38 L903.7,325.13 L905.7,325.90 L907.7,326.67 L909.7,327.44 L911.7,328.22 L913.7,329.00 L915.7,329.75 L917.7,330.46 L919.7,331.14 L921.7,331.78 L923.7,332.36 L925.7,332.80 L927.7,333.08 L929.7,333.26 L931.7,333.41 L933.7,333.53 L935.7,333.58 L937.7,333.60 L939.7,333.60 L941.7,333.60 L943.7,333.60 L945.7,333.60 L947.7,333.60 L949.7,333.60 L951.7,333.60 L953.7,333.60 L955.7,333.60 L957.7,333.59 L959.7,333.56 L961.7,333.50 L963.7,333.41 L965.7,333.32 L967.7,333.20 L969.7,333.06 L971.7,332.88 L973.7,332.70 L975.7,332.49 L977.7,332.25 L979.7,331.95 L981.7,331.63 L983.7,331.28 L985.7,330.86 L987.7,330.35 L989.7,329.77 L991.7,329.18 L993.7,328.58 L995.7,327.98 L997.7,327.37 L999.7,326.76 L1001.7,326.10 L1003.7,325.35 L1005.7,324.50 L1007.7,323.60 L1009.7,322.67 L1011.7,321.74 L1013.7,320.80 L1015.7,319.86 L1017.7,318.92 L1019.7,317.98 L1021.7,317.06 L1023.7,316.14 L1025.7,315.28 L1027.7,314.49 L1029.7,313.75 L1031.7,313.04 L1033.7,312.35 L1035.7,311.69 L1037.7,311.07 L1039.7,310.46 L1041.7,309.88 L1043.7,309.36 L1045.7,308.90 L1047.7,308.47 L1049.7,308.07 L1051.7,307.71 L1053.7,307.41 L1055.7,307.16 L1057.7,306.94 L1059.7,306.77 L1061.7,306.68 L1063.7,306.68 L1065.7,306.73 L1067.7,306.83 L1069.7,307.04 L1071.7,307.38 L1073.7,307.81 L1075.7,308.30 L1077.7,308.93 L1079.7,309.78 L1081.7,310.78 L1083.7,311.85 L1085.7,313.03 L1087.7,314.39 L1089.7,315.93 L1091.7,317.54 L1093.7,319.19 L1095.7,320.87 L1097.7,322.61 L1099.7,324.37 L1101.7,326.15 L1103.7,327.93 L1105.7,329.73 L1107.7,331.54 L1109.7,333.34 L1111.7,335.11 L1113.7,336.80 L1115.7,338.44 L1117.7,340.04 L1119.7,341.60 L1121.7,343.07 L1123.7,344.45 L1125.7,345.77 L1127.7,347.07 L1129.7,348.31 L1131.7,349.47 L1133.7,350.58 L1135.7,351.66 L1137.7,352.68 L1139.7,353.61 L1141.7,354.46 L1143.7,355.27 L1145.7,356.04 L1147.7,356.75 L1149.7,357.40 L1151.7,358.01 L1153.7,358.58 L1155.7,359.03 L1157.7,359.35 L1159.7,359.57 L1161.7,359.76 L1163.7,359.93 L1165.7,360.08 L1167.7,360.16 L1169.7,360.04 L1171.7,359.60 L1173.7,358.92 L1175.7,358.14 L1177.7,357.35 L1179.7,356.55 L1181.7,355.75 L1183.7,354.95 L1185.7,354.14 L1187.7,353.33 L1189.7,352.52 L1191.7,351.71 L1193.7,350.91 L1195.7,350.14 L1197.7,349.42 L1199.7,348.74 L1201.7,348.08 L1203.7,347.49 L1205.7,347.00 L1207.7,346.61 L1209.7,346.27 L1211.7,345.96 L1213.7,345.69 L1215.7,345.45 L1217.7,345.24 L1219.7,345.04 L1221.7,344.86 L1223.7,344.71 L1225.7,344.58 L1227.7,344.47 L1229.7,344.36 L1231.7,344.27 L1233.7,344.19 L1235.7,344.12 L1237.7,344.06 L1239.7,344.02 L1241.7,344.00 L1243.7,344.00 L1245.7,343.99 L1247.7,343.96 L1249.7,343.90 L1251.7,343.82 L1253.7,343.71 L1255.7,343.52 L1257.7,343.21 L1259.7,342.77 L1261.7,342.26 L1263.7,341.73 L1265.7,341.14 L1267.7,340.49 L1269.7,339.81 L1271.7,339.09 L1273.7,338.30 L1275.7,337.39 L1277.7,336.40 L1279.7,335.38 L1281.7,334.37 L1283.7,333.37 L1285.7,332.39 L1287.7,331.41 L1289.7,330.45 L1291.7,329.49 L1293.7,328.56 L1295.7,327.64 L1297.7,326.75 L1299.7,325.91 L1301.7,325.15 L1303.7,324.46 L1305.7,323.79 L1307.7,323.15 L1309.7,322.56 L1311.7,322.01 L1313.7,321.48 L1315.7,320.99 L1317.7,320.57 L1319.7,320.24 L1321.7,319.95 L1323.7,319.68 L1325.7,319.46 L1327.7,319.30 L1329.7,319.17 L1331.7,319.04 L1333.7,318.91 L1335.7,318.74 L1337.7,318.54 L1339.7,318.34 L1341.7,318.17 L1342.7,318.11" stroke="#7979ec"/>
</g></g>
<!-- axes -->
<g fill="#000">
<rect x="57" y="46.5" width="4.5" height="539"/>
<rect x="57" y="581" width="1286" height="4.5"/>
<rect x="61" y="46.5" width="8.5" height="4.2"/>
<rect x="61" y="135.6" width="8.5" height="4.2"/>
<rect x="61" y="224.7" width="8.5" height="4.2"/>
<rect x="61" y="313.8" width="8.5" height="4.2"/>
<rect x="61" y="402.9" width="8.5" height="4.2"/>
<rect x="61" y="492.0" width="8.5" height="4.2"/>
<rect x="200.2" y="583" width="4.6" height="8"/>
<rect x="342.5" y="583" width="4.6" height="8"/>
<rect x="484.8" y="583" width="4.6" height="8"/>
<rect x="627.0" y="583" width="4.6" height="8"/>
<rect x="769.3" y="583" width="4.6" height="8"/>
<rect x="911.6" y="583" width="4.6" height="8"/>
<rect x="1053.9" y="583" width="4.6" height="8"/>
<rect x="1196.2" y="583" width="4.6" height="8"/>
<rect x="1338.4" y="583" width="4.6" height="8"/>
<rect x="57" y="583" width="4.5" height="9.5"/>
<rect x="1338.5" y="581" width="4.5" height="10"/>
</g>
<text class="tl" x="30.2" y="56.7" text-anchor="end">-4</text>
<text class="tl" x="30.2" y="145.8" text-anchor="end">-2</text>
<text class="tl" x="30.2" y="234.9" text-anchor="end">0</text>
<text class="tl" x="30.2" y="324.0" text-anchor="end">2</text>
<text class="tl" x="30.2" y="413.1" text-anchor="end">4</text>
<text class="tl" x="30.2" y="502.2" text-anchor="end">6</text>
<text class="tl" x="30.2" y="591.3" text-anchor="end">8</text>
<text class="tl" x="202.9" y="627.9" text-anchor="end">0</text>
<text class="tl" x="345.2" y="627.9" text-anchor="end">100</text>
<text class="tl" x="487.5" y="627.9" text-anchor="end">200</text>
<text class="tl" x="629.7" y="627.9" text-anchor="end">300</text>
<text class="tl" x="772.0" y="627.9" text-anchor="end">400</text>
<text class="tl" x="914.3" y="627.9" text-anchor="end">500</text>
<text class="tl" x="1056.6" y="627.9" text-anchor="end">600</text>
<text class="tl" x="1198.9" y="627.9" text-anchor="end">700</text>
<text class="tl" x="1341.1" y="627.9" text-anchor="end">800</text>
<rect x="143" y="66.3" width="69" height="4.5" fill="#0000ff"/>
<rect x="143" y="117.7" width="69" height="4.3" fill="#c40000"/>
<text class="lg" x="262.4" y="71.6" font-size="23" textLength="64.2" lengthAdjust="spacingAndGlyphs">NS-BS</text>
<text class="lg" x="261.8" y="124.3" font-size="23" textLength="80.6" lengthAdjust="spacingAndGlyphs">NS-SD0</text>
<text class="lg" x="959.6" y="239.6" font-size="23" textLength="64.5" lengthAdjust="spacingAndGlyphs">NS-BS</text>
<text class="lg" x="900.0" y="271.9" font-size="23" textLength="184.5" lengthAdjust="spacingAndGlyphs">P300:350-450ms</text>
<text class="lg" x="1223.2" y="235.8" font-size="23" textLength="80.2" lengthAdjust="spacingAndGlyphs">NS-SD0</text>
<text class="lg" x="1171.4" y="268.4" font-size="23" textLength="184.3" lengthAdjust="spacingAndGlyphs">P300:350-450ms</text>
<rect x="1375.5" y="24.70" width="13" height="10.16" fill="#ff1f1f" stroke="#444" stroke-width="0.6"/>
<rect x="1375.5" y="34.86" width="13" height="10.16" fill="#ff3a3a" stroke="#444" stroke-width="0.6"/>
<rect x="1375.5" y="45.02" width="13" height="10.16" fill="#ff5252" stroke="#444" stroke-width="0.6"/>
<rect x="1375.5" y="55.18" width="13" height="10.16" fill="#ff6c6c" stroke="#444" stroke-width="0.6"/>
<rect x="1375.5" y="65.34" width="13" height="10.16" fill="#ff8a8a" stroke="#444" stroke-width="0.6"/>
<rect x="1375.5" y="75.50" width="13" height="10.16" fill="#ffa8a8" stroke="#444" stroke-width="0.6"/>
<rect x="1375.5" y="85.66" width="13" height="10.16" fill="#ffc8c8" stroke="#444" stroke-width="0.6"/>
<rect x="1375.5" y="95.82" width="13" height="10.16" fill="#ffe6e6" stroke="#444" stroke-width="0.6"/>
<rect x="1375.5" y="105.98" width="13" height="10.16" fill="#f2f2ff" stroke="#444" stroke-width="0.6"/>
<rect x="1375.5" y="116.14" width="13" height="10.16" fill="#d4d4ff" stroke="#444" stroke-width="0.6"/>
<rect x="1375.5" y="126.30" width="13" height="10.16" fill="#b4b4ff" stroke="#444" stroke-width="0.6"/>
<rect x="1375.5" y="136.46" width="13" height="10.16" fill="#9494ff" stroke="#444" stroke-width="0.6"/>
<rect x="1375.5" y="146.62" width="13" height="10.16" fill="#7474ff" stroke="#444" stroke-width="0.6"/>
<rect x="1375.5" y="156.78" width="13" height="10.16" fill="#5454ff" stroke="#444" stroke-width="0.6"/>
<rect x="1375.5" y="166.94" width="13" height="10.16" fill="#3434ff" stroke="#444" stroke-width="0.6"/>
<rect x="1375.5" y="177.10" width="13" height="10.16" fill="#1a1aff" stroke="#444" stroke-width="0.6"/>
<rect x="1375.5" y="187.26" width="13" height="10.16" fill="#0000ff" stroke="#444" stroke-width="0.6"/>
<rect x="1375.5" y="24.7" width="13" height="172.7" fill="none" stroke="#222" stroke-width="1"/>
<text class="cb" x="1397.3" y="38.6" font-size="18.5">9</text>
<text class="cb" x="1393.8" y="117.4" font-size="24.5">0</text>
<text class="cb" x="1394.4" y="197.6" font-size="18" textLength="16.6" lengthAdjust="spacing">-9</text>
<path d="M929.0,33.0 917.0,42.0 914.0,45.0 913.5,45.0 910.5,48.0 906.5,51.0 904.0,54.5 898.0,61.0 889.0,75.5 889.0,76.5 886.5,81.0 886.5,82.0 883.5,88.0 883.5,89.0 882.5,91.0 882.5,92.5 881.0,96.0 881.0,97.5 880.5,98.0 880.0,101.0 878.5,105.0 878.5,107.0 878.0,107.5 878.0,109.5 877.5,110.0 877.5,112.0 877.0,112.5 877.0,114.5 876.5,115.0 876.5,117.0 876.0,117.5 875.5,123.5 875.0,124.0 875.0,127.0 874.5,127.5 874.5,130.5 874.0,131.0 874.0,133.5 873.5,134.0 873.5,149.0 874.5,151.5 874.5,153.5 875.5,156.0 875.5,158.0 876.0,158.5 876.5,162.0 884.5,173.0 886.5,175.0 887.0,175.0 897.5,184.5 901.0,186.5 902.5,188.0 907.5,191.0 910.5,193.5 911.5,193.5 913.0,194.5 914.0,194.5 915.5,195.5 916.5,195.5 923.0,198.5 924.0,198.5 926.0,199.5 927.5,199.5 928.0,200.0 929.5,200.0 930.0,200.5 931.5,200.5 932.0,201.0 933.5,201.0 934.0,201.5 935.5,201.5 936.0,202.0 937.5,202.0 938.0,202.5 941.0,202.5 941.5,203.0 945.5,203.0 946.0,203.5 954.0,204.0 954.5,204.5 958.0,204.5 958.5,205.0 972.5,205.5 973.0,206.0 980.5,206.0 981.0,206.5 981.5,206.0 1003.0,206.0 1003.5,205.5 1013.0,205.0 1013.5,204.5 1015.5,204.5 1016.0,204.0 1021.5,203.0 1023.5,202.0 1031.0,200.5 1032.5,199.5 1036.0,198.5 1038.5,197.0 1042.0,196.0 1044.5,194.5 1048.0,193.5 1049.0,192.5 1050.5,192.0 1051.5,191.0 1060.5,186.0 1064.5,183.0 1074.5,174.0 1074.5,173.5 1082.0,165.0 1087.5,155.5 1088.0,149.0 1088.5,148.5 1088.5,144.5 1089.0,144.0 1089.0,140.5 1089.5,140.0 1089.0,139.5 1089.0,132.5 1088.5,132.0 1088.5,125.0 1088.0,124.5 1088.0,120.5 1087.5,120.0 1087.5,118.0 1087.0,117.5 1087.0,115.5 1086.5,115.0 1086.5,113.0 1086.0,112.5 1086.0,110.5 1085.5,110.0 1085.0,106.0 1084.0,104.0 1084.0,102.5 1082.5,99.0 1082.5,97.5 1081.0,94.0 1080.5,91.0 1072.5,75.0 1071.5,74.0 1071.0,72.5 1070.0,71.5 1069.5,70.0 1068.5,69.0 1063.5,60.0 1061.5,58.0 1054.5,48.5 1049.5,43.5 1049.0,43.5 1039.5,35.0 1038.0,34.5 1035.5,32.5 1034.0,32.0 1031.5,30.0 1027.0,27.5 1026.0,27.5 1024.5,26.5 1021.0,25.5 1018.5,24.0 1017.5,24.0 1013.5,22.0 1008.5,21.5 1008.0,21.0 1005.5,21.0 1005.0,20.5 1002.5,20.5 1002.0,20.0 999.5,20.0 999.0,19.5 974.0,19.5 973.5,20.0 970.0,20.0 969.5,20.5 966.5,20.5 966.0,21.0 963.0,21.0 962.5,21.5 959.0,21.5 958.5,22.0 956.5,22.0 954.5,23.0 953.0,23.0 951.0,24.0 949.5,24.0 947.5,25.0 946.0,25.0 945.5,25.5 943.0,26.0Z" fill="#d6d6ff" fill-rule="evenodd"/>
<path d="M929.0,33.0 917.0,42.0 914.0,45.0 913.5,45.0 910.5,48.0 906.5,51.0 904.0,54.5 898.0,61.0 889.0,75.5 889.0,76.5 886.5,81.0 886.5,82.0 883.5,88.0 883.5,89.0 882.5,91.0 882.5,92.5 881.0,96.0 881.0,97.5 880.5,98.0 880.0,101.0 878.5,105.0 878.5,107.0 878.0,107.5 878.0,109.5 877.5,110.0 877.5,112.0 877.0,112.5 877.0,114.5 876.5,115.0 876.5,117.0 876.0,117.5 875.5,123.5 875.0,124.0 875.0,127.0 874.5,127.5 874.5,130.5 874.0,131.0 874.0,133.5 873.5,134.0 873.5,149.0 874.5,151.5 874.5,153.5 875.5,156.0 875.5,158.0 876.0,158.5 876.5,162.0 884.5,173.0 886.5,175.0 887.0,175.0 891.0,179.0 891.5,179.0 895.0,182.5 899.0,185.5 905.0,188.5 906.0,189.5 922.0,197.0 923.0,197.0 928.0,199.0 929.5,199.0 931.5,200.0 933.0,200.0 933.5,200.5 937.0,201.0 939.0,202.0 940.5,202.0 942.0,203.0 945.5,203.0 946.0,203.5 949.5,203.5 950.0,204.0 954.0,204.0 954.5,204.5 958.0,204.5 958.5,205.0 972.5,205.5 973.0,206.0 980.5,206.0 981.0,206.5 981.5,206.0 1003.0,206.0 1003.5,205.5 1013.0,205.0 1013.5,204.5 1015.5,204.5 1016.0,204.0 1021.5,203.0 1023.5,202.0 1031.0,200.5 1032.5,199.5 1036.0,198.5 1038.5,197.0 1042.0,196.0 1044.5,194.5 1048.0,193.5 1049.0,192.5 1050.5,192.0 1051.5,191.0 1060.5,186.0 1064.5,183.0 1074.5,174.0 1074.5,173.5 1082.0,165.0 1087.5,155.5 1088.0,149.0 1088.5,148.5 1088.5,144.5 1089.0,144.0 1089.0,140.5 1089.5,140.0 1089.0,139.5 1089.0,132.5 1088.5,132.0 1088.5,125.0 1088.0,124.5 1088.0,120.5 1087.5,120.0 1087.5,118.0 1087.0,117.5 1087.0,115.5 1086.5,115.0 1086.5,113.0 1086.0,112.5 1086.0,110.5 1085.5,110.0 1085.0,106.0 1084.0,104.0 1084.0,102.5 1082.5,99.0 1082.5,97.5 1081.0,94.0 1080.5,91.0 1072.5,75.0 1071.5,74.0 1071.0,72.5 1070.0,71.5 1069.5,70.0 1068.5,69.0 1063.5,60.0 1061.5,58.0 1054.5,48.5 1049.5,43.5 1049.0,43.5 1039.5,35.0 1038.0,34.5 1035.5,32.5 1034.0,32.0 1031.5,30.0 1027.0,27.5 1026.0,27.5 1024.5,26.5 1021.0,25.5 1018.5,24.0 1017.5,24.0 1013.5,22.0 1008.5,21.5 1008.0,21.0 1005.5,21.0 1005.0,20.5 1002.5,20.5 1002.0,20.0 999.5,20.0 999.0,19.5 974.0,19.5 973.5,20.0 970.0,20.0 969.5,20.5 966.5,20.5 966.0,21.0 963.0,21.0 962.5,21.5 959.0,21.5 958.5,22.0 956.5,22.0 954.5,23.0 953.0,23.0 951.0,24.0 949.5,24.0 947.5,25.0 946.0,25.0 945.5,25.5 943.0,26.0Z" fill="#f2f2ff" fill-rule="evenodd"/>
<path d="M929.0,33.0 917.0,42.0 914.0,45.0 913.5,45.0 910.5,48.0 906.5,51.0 904.0,54.5 898.0,61.0 895.0,65.5 894.5,67.0 892.5,69.5 892.0,71.0 890.0,73.5 889.0,75.5 889.0,76.5 886.5,81.0 886.5,82.0 884.5,85.5 884.5,86.5 883.5,88.0 883.5,89.0 882.5,91.0 882.5,92.5 881.0,96.0 881.0,97.5 880.0,99.5 879.0,104.5 878.5,105.0 878.5,107.0 878.0,107.5 878.0,109.5 877.5,110.0 877.5,112.0 877.0,112.5 877.0,114.5 876.5,115.0 876.5,117.0 876.0,117.5 876.0,120.0 875.5,120.5 875.5,138.0 876.0,138.5 876.5,146.0 877.0,146.5 877.0,148.0 878.5,151.0 878.5,152.0 884.0,161.5 887.5,165.5 887.5,166.0 895.0,173.5 895.5,173.5 901.0,178.5 910.0,185.0 911.5,185.5 915.0,188.0 925.5,193.0 926.5,193.0 931.5,195.0 933.0,195.0 935.0,196.0 936.5,196.0 938.5,197.0 940.0,197.0 940.5,197.5 941.5,197.5 946.5,199.5 948.0,199.5 950.0,200.5 951.5,200.5 953.5,201.5 955.5,201.5 956.0,202.0 958.0,202.0 958.5,202.5 961.0,202.5 961.5,203.0 965.5,203.0 966.0,203.5 975.0,203.5 975.5,204.0 994.5,204.0 995.0,203.5 1003.5,203.5 1004.0,203.0 1008.5,203.0 1009.0,202.5 1016.0,202.0 1016.5,201.5 1019.0,201.5 1019.5,201.0 1021.5,201.0 1022.0,200.5 1024.0,200.5 1026.0,199.5 1027.5,199.5 1028.0,199.0 1033.5,197.5 1036.0,196.0 1037.0,196.0 1042.0,193.5 1043.0,192.5 1047.5,190.5 1048.5,189.5 1055.0,186.5 1056.0,185.5 1059.5,184.0 1063.0,181.5 1070.5,177.5 1074.5,174.0 1074.5,173.5 1082.0,165.0 1087.5,155.5 1088.0,149.0 1088.5,148.5 1088.5,144.5 1089.0,144.0 1089.0,140.5 1089.5,140.0 1089.0,139.5 1089.0,132.5 1088.5,132.0 1088.5,125.0 1088.0,124.5 1088.0,120.5 1087.5,120.0 1087.5,118.0 1087.0,117.5 1087.0,115.5 1086.5,115.0 1086.5,113.0 1086.0,112.5 1086.0,110.5 1085.5,110.0 1085.0,106.0 1084.0,104.0 1084.0,102.5 1082.5,99.0 1082.5,97.5 1081.0,94.0 1080.5,91.0 1072.5,75.0 1071.5,74.0 1071.0,72.5 1070.0,71.5 1069.5,70.0 1068.5,69.0 1063.5,60.0 1061.5,58.0 1054.5,48.5 1049.5,43.5 1049.0,43.5 1039.5,35.0 1038.0,34.5 1035.5,32.5 1034.0,32.0 1031.5,30.0 1027.0,27.5 1026.0,27.5 1024.5,26.5 1021.0,25.5 1018.5,24.0 1017.5,24.0 1013.5,22.0 1008.5,21.5 1008.0,21.0 1005.5,21.0 1005.0,20.5 1002.5,20.5 1002.0,20.0 999.5,20.0 999.0,19.5 974.0,19.5 973.5,20.0 970.0,20.0 969.5,20.5 966.5,20.5 966.0,21.0 963.0,21.0 962.5,21.5 959.0,21.5 958.5,22.0 956.5,22.0 954.5,23.0 953.0,23.0 951.0,24.0 949.5,24.0 947.5,25.0 946.0,25.0 945.5,25.5 943.0,26.0Z" fill="#fff0f0" fill-rule="evenodd"/>
<path d="M906.5,51.0 906.5,51.5 901.5,57.0 899.5,61.0 899.0,63.0 898.0,64.0 897.0,66.5 891.5,75.0 888.0,82.0 888.0,83.0 887.0,84.5 887.0,85.5 886.5,86.0 885.5,90.0 884.5,91.5 884.5,92.5 882.0,99.0 882.0,100.5 881.5,101.0 881.0,106.5 880.5,107.0 880.5,112.5 881.0,113.0 881.0,116.5 881.5,117.0 881.5,119.5 882.0,120.0 883.0,128.5 883.5,129.0 883.5,131.0 884.0,131.5 884.0,133.5 885.0,136.0 885.5,140.0 886.0,140.5 886.5,143.5 888.0,146.5 888.5,149.0 891.0,154.0 892.0,155.0 892.5,156.5 895.5,161.0 904.0,171.0 904.0,171.5 911.5,179.0 919.0,184.5 927.0,188.5 928.0,188.5 929.5,189.5 930.5,189.5 935.5,191.5 937.0,191.5 939.0,192.5 940.5,192.5 942.5,193.5 946.0,194.0 948.0,195.0 949.5,195.0 950.0,195.5 951.5,195.5 954.0,196.5 960.0,197.0 960.5,197.5 967.0,197.5 967.5,198.0 988.0,198.0 988.5,197.5 1002.0,197.5 1002.5,197.0 1008.5,197.0 1009.0,196.5 1017.0,196.0 1017.5,195.5 1019.5,195.5 1020.0,195.0 1022.0,195.0 1022.5,194.5 1026.0,194.0 1026.5,193.5 1032.0,192.0 1034.5,190.5 1035.5,190.5 1038.5,189.0 1039.5,188.0 1047.0,184.0 1055.5,178.0 1057.5,176.0 1058.0,176.0 1060.0,174.0 1060.5,174.0 1062.5,172.0 1070.5,166.0 1079.0,157.5 1082.0,153.0 1084.5,146.5 1085.0,141.5 1085.5,141.0 1085.5,136.5 1086.0,136.0 1085.5,120.0 1085.0,119.5 1085.0,115.0 1084.5,114.5 1084.5,112.0 1084.0,111.5 1084.0,109.0 1083.5,108.5 1083.0,105.0 1082.5,104.5 1082.0,101.5 1078.0,90.5 1077.5,87.0 1077.0,86.5 1076.5,84.0 1075.5,82.5 1075.5,81.5 1072.0,75.0 1062.5,61.5 1060.0,56.0 1054.0,48.0 1047.0,42.0 1041.0,38.0 1039.5,37.5 1035.5,34.5 1031.5,32.5 1030.5,31.5 1016.5,25.0 1013.5,24.5 1010.0,23.0 1008.5,23.0 1006.0,22.0 1003.0,22.0 1002.5,21.5 989.0,21.5 988.5,22.0 980.5,22.0 980.0,22.5 971.5,22.0 971.0,21.5 967.0,21.5 966.5,21.0 959.0,21.5 958.5,22.0 956.5,22.0 954.5,23.0 953.0,23.0 952.5,23.5 950.0,24.0 941.5,30.0 931.0,35.5 920.5,42.5 912.0,47.0Z" fill="#ffd2d2" fill-rule="evenodd"/>
<path d="M1049.5,50.0 1040.5,43.5 1033.0,39.5 1032.0,38.5 1019.5,32.5 1018.5,32.5 1013.0,30.0 1008.0,29.0 1007.5,28.5 998.0,28.5 997.5,29.0 991.0,29.5 990.5,30.0 988.0,30.0 987.5,30.5 985.0,30.5 984.5,31.0 973.0,31.0 972.5,30.5 970.0,30.5 969.5,30.0 964.5,29.5 964.0,29.0 955.5,29.0 951.5,31.0 948.0,34.0 943.5,36.5 942.5,37.5 928.0,44.5 927.0,45.5 923.5,47.0 922.5,48.0 913.5,52.5 908.5,56.0 905.0,60.0 902.5,65.5 902.5,66.5 901.5,68.0 901.5,69.0 893.0,85.0 893.0,86.0 890.5,92.5 890.5,94.0 888.5,99.0 888.5,100.5 887.5,102.5 887.5,104.5 887.0,105.0 887.0,107.0 886.5,107.5 886.5,113.0 887.0,113.5 887.5,117.5 888.0,118.0 891.0,128.0 892.0,129.5 892.0,130.5 894.0,134.5 894.5,137.0 895.5,138.5 895.5,140.0 896.0,140.5 897.0,144.5 898.0,146.0 898.0,147.0 899.0,148.5 899.0,149.5 904.0,158.5 908.5,165.0 909.0,166.5 914.5,174.0 917.5,177.0 918.0,177.0 922.0,180.5 930.5,185.0 931.5,185.0 938.0,187.5 939.5,187.5 940.0,188.0 941.5,188.0 942.0,188.5 943.5,188.5 944.0,189.0 945.5,189.0 946.0,189.5 947.5,189.5 950.0,190.5 955.0,191.0 955.5,191.5 959.5,191.5 960.0,192.0 998.0,191.5 998.5,191.0 1009.5,191.0 1010.0,190.5 1018.5,190.0 1019.0,189.5 1021.0,189.5 1021.5,189.0 1027.0,188.0 1036.5,184.0 1037.5,183.0 1039.0,182.5 1043.5,179.5 1049.5,174.0 1050.0,174.0 1056.0,167.5 1056.0,167.0 1067.5,155.5 1067.5,155.0 1071.0,151.0 1074.0,145.5 1074.0,144.5 1075.5,141.5 1075.5,140.0 1076.5,137.5 1076.5,135.5 1077.0,135.0 1077.0,132.5 1077.5,132.0 1077.5,127.0 1078.0,126.5 1078.0,114.0 1077.5,113.5 1077.5,110.0 1077.0,109.5 1076.5,105.0 1076.0,104.5 1076.0,103.0 1075.5,102.5 1075.5,101.0 1075.0,100.5 1075.0,99.0 1074.0,96.5 1074.0,94.5 1073.5,94.0 1072.0,86.5 1070.5,83.5 1070.5,82.5 1066.0,74.5 1062.5,69.5 1058.0,60.0 1054.5,55.0Z" fill="#ffb6b6" fill-rule="evenodd"/>
<path d="M1052.0,59.0 1044.0,52.0 1035.5,46.5 1027.5,42.5 1026.5,42.5 1022.5,40.5 1021.5,40.5 1013.5,37.5 1008.5,37.0 1008.0,36.5 1004.0,36.5 1003.5,37.0 1001.0,37.0 1000.5,37.5 999.0,37.5 998.5,38.0 997.0,38.0 996.5,38.5 994.0,39.0 988.0,42.0 987.0,42.0 983.5,44.0 982.5,44.0 981.0,45.0 978.0,45.5 977.5,46.0 970.0,46.0 969.5,45.5 967.0,45.5 966.5,45.0 961.0,44.5 960.5,44.0 958.0,44.0 957.5,44.5 953.0,45.0 952.5,45.5 949.5,46.0 946.0,47.5 944.5,47.5 944.0,48.0 942.5,48.0 942.0,48.5 940.5,48.5 940.0,49.0 938.5,49.0 938.0,49.5 936.5,49.5 934.5,50.5 931.5,51.0 916.5,58.5 912.0,61.5 909.0,66.0 906.5,74.5 903.0,81.5 903.0,82.5 900.5,87.0 900.5,88.0 898.0,94.5 898.0,96.0 897.5,96.5 897.5,98.0 896.5,100.0 896.5,101.5 895.5,104.0 895.5,106.0 895.0,106.5 895.0,113.0 895.5,113.5 897.0,119.0 898.5,121.5 898.5,122.5 901.5,129.0 901.5,130.0 903.0,133.5 903.0,135.0 904.5,138.5 904.5,140.0 905.0,140.5 907.0,147.5 908.0,149.0 908.0,150.0 910.0,153.5 910.0,154.5 913.0,160.5 914.0,161.5 916.0,166.0 919.0,170.5 925.0,176.5 932.0,180.5 933.0,180.5 938.0,182.5 943.5,183.5 944.0,184.0 946.0,184.0 946.5,184.5 948.5,184.5 949.0,185.0 952.0,185.0 952.5,185.5 957.0,185.5 957.5,186.0 966.5,186.0 967.0,185.5 982.0,185.0 982.5,184.5 1002.0,184.5 1002.5,185.0 1016.0,184.5 1016.5,184.0 1019.5,184.0 1020.0,183.5 1024.5,183.0 1025.0,182.5 1029.0,181.5 1034.5,179.0 1039.0,176.0 1042.0,173.0 1042.5,173.0 1047.0,168.0 1051.5,162.0 1052.5,160.0 1059.0,152.5 1063.0,146.5 1065.5,141.5 1065.5,140.5 1068.0,134.0 1068.5,130.0 1069.0,129.5 1069.0,127.5 1069.5,127.0 1069.5,124.0 1070.0,123.5 1070.5,111.0 1070.0,110.5 1070.0,107.5 1069.5,107.0 1069.5,104.5 1069.0,104.0 1069.0,102.0 1068.5,101.5 1068.5,99.0 1068.0,98.5 1068.0,96.0 1067.5,95.5 1067.5,93.0 1067.0,92.5 1066.5,88.0 1066.0,87.5 1065.5,85.0 1063.5,81.0 1062.5,80.0 1057.0,69.0 1056.0,65.5 1054.0,61.5 1052.0,59.5Z" fill="#ff9898" fill-rule="evenodd"/>
<path d="M1046.0,61.5 1039.5,56.0 1035.0,53.0 1029.0,50.0 1028.0,50.0 1024.5,48.5 1019.0,47.5 1018.5,47.0 1015.5,47.0 1015.0,46.5 1009.0,46.5 1008.5,47.0 1004.5,47.5 998.5,50.5 991.5,56.5 991.5,57.0 986.5,62.0 983.5,66.0 976.5,73.0 972.5,75.5 971.5,75.5 968.0,77.0 965.5,77.0 965.0,77.5 959.0,77.5 958.5,77.0 954.0,76.5 953.5,76.0 949.5,75.0 939.0,69.5 935.5,69.0 935.0,68.5 932.0,68.5 927.0,70.5 924.5,73.0 923.0,76.0 921.5,81.0 916.5,90.0 916.5,91.0 915.5,92.5 915.5,93.5 914.5,95.5 914.0,100.0 913.5,100.5 913.5,114.0 913.0,114.5 913.0,119.0 912.5,119.5 912.5,129.5 913.0,130.0 913.0,136.0 913.5,136.5 913.5,140.0 914.0,140.5 914.0,143.0 914.5,143.5 915.0,147.0 915.5,147.5 916.5,151.5 917.5,153.0 917.5,154.0 918.5,155.5 918.5,156.5 920.0,159.0 920.0,160.0 923.5,166.5 926.5,170.5 928.5,172.5 933.5,175.5 934.5,175.5 938.0,177.0 941.5,177.5 942.0,178.0 947.5,178.5 948.0,179.0 953.0,179.0 953.5,179.5 966.0,179.0 966.5,178.5 969.5,178.5 970.0,178.0 973.0,178.0 973.5,177.5 977.0,177.5 977.5,177.0 981.5,177.0 982.0,176.5 992.5,176.5 993.0,177.0 998.0,177.0 998.5,177.5 1002.5,177.5 1003.0,178.0 1010.5,178.0 1011.0,178.5 1013.0,178.5 1013.5,178.0 1019.5,178.0 1020.0,177.5 1022.5,177.5 1023.0,177.0 1024.5,177.0 1025.0,176.5 1029.0,175.5 1035.0,172.0 1042.0,164.5 1053.0,148.0 1056.0,142.0 1056.0,141.0 1058.5,134.5 1059.0,130.5 1059.5,130.0 1059.5,127.5 1060.0,127.0 1060.0,123.5 1060.5,123.0 1061.0,110.0 1060.5,109.5 1060.5,102.5 1060.0,102.0 1060.0,97.5 1059.5,97.0 1059.0,91.0 1058.5,90.5 1058.5,89.0 1058.0,88.5 1057.5,86.0 1056.5,84.5 1056.5,83.5 1055.5,82.0 1055.5,81.0 1054.0,78.5 1052.5,73.5 1051.5,72.0 1051.0,69.5 1049.0,65.5Z" fill="#ff7878" fill-rule="evenodd"/>
<path d="M1035.0,63.0 1028.5,59.0 1027.5,59.0 1025.5,58.0 1024.0,58.0 1023.5,57.5 1017.5,57.0 1017.0,57.5 1012.0,58.0 1008.5,59.5 1005.5,61.5 1000.0,67.0 995.5,73.5 992.5,79.5 991.5,80.5 991.0,82.0 988.0,86.5 980.0,95.0 975.0,98.5 966.0,103.0 965.0,103.0 961.0,105.0 957.0,106.0 955.5,107.0 953.0,107.5 945.5,111.0 941.0,114.0 934.5,120.0 928.5,128.0 926.5,132.0 926.5,133.0 925.5,135.0 925.5,136.5 925.0,137.0 925.0,139.0 924.5,139.5 924.5,146.5 925.0,147.0 925.0,149.5 925.5,150.0 925.5,151.5 926.0,152.0 926.0,153.5 926.5,154.0 927.5,158.0 931.0,164.5 934.5,168.0 937.0,169.5 938.0,169.5 941.5,171.0 943.5,171.0 944.0,171.5 947.0,171.5 947.5,172.0 956.0,172.0 956.5,171.5 960.0,171.5 960.5,171.0 962.5,171.0 963.0,170.5 966.5,170.0 968.5,169.0 970.0,169.0 970.5,168.5 971.5,168.5 973.5,167.5 975.0,167.5 977.0,166.5 978.5,166.5 979.0,166.0 987.5,165.0 988.0,165.5 991.5,165.5 992.0,166.0 993.5,166.0 995.5,167.0 997.0,167.0 997.5,167.5 998.5,167.5 1003.5,169.5 1007.0,170.0 1007.5,170.5 1009.5,170.5 1010.0,171.0 1015.0,171.0 1016.0,171.5 1016.5,171.0 1021.0,171.0 1021.5,170.5 1023.5,170.5 1026.5,169.0 1027.5,169.0 1028.5,168.0 1030.0,167.5 1034.0,164.0 1041.5,153.5 1046.0,145.0 1046.0,144.0 1047.5,141.0 1048.0,137.5 1048.5,137.0 1048.5,135.0 1049.0,134.5 1049.0,130.5 1049.5,130.0 1049.5,124.5 1049.0,124.0 1049.0,119.5 1048.5,119.0 1048.0,110.5 1047.5,110.0 1048.0,109.5 1048.0,93.5 1047.5,93.0 1047.5,91.0 1047.0,90.5 1047.0,89.0 1046.5,88.5 1046.5,87.0 1046.0,86.5 1045.5,84.0 1044.5,82.5 1044.5,81.5 1043.5,79.5 1043.5,78.0 1043.0,77.5 1043.0,76.0 1042.5,75.5 1041.5,71.5 1038.5,66.5Z" fill="#ff5757" fill-rule="evenodd"/>
<path d="M959.5,142.5 958.0,142.5 957.5,142.0 949.0,142.0 948.5,142.5 945.0,143.0 942.5,144.5 941.0,146.0 939.5,149.0 939.5,154.0 941.5,158.0 945.0,160.5 948.5,161.0 949.0,161.5 954.0,161.0 959.5,158.5 963.5,154.5 965.0,151.0 965.0,148.0 964.5,147.5 964.5,146.5 963.0,144.5ZM1022.0,72.0 1019.0,72.0 1014.0,74.0 1012.0,75.5 1008.5,79.5 1003.0,90.5 1003.0,91.5 1001.5,94.5 1001.5,96.0 1000.5,98.0 1000.0,102.0 999.5,102.5 1000.0,124.0 999.5,124.5 999.0,131.5 998.5,132.0 998.5,137.5 999.0,138.0 999.0,140.0 999.5,140.5 1000.0,144.0 1001.0,145.5 1002.5,151.0 1005.5,156.5 1008.5,159.5 1014.5,162.5 1020.5,162.5 1021.0,162.0 1022.0,162.0 1026.5,159.5 1029.0,157.0 1032.5,152.0 1036.0,145.0 1036.0,144.0 1037.0,142.0 1037.0,140.5 1037.5,140.0 1037.5,138.0 1038.0,137.5 1038.0,132.5 1038.5,132.0 1038.0,131.0 1038.0,125.0 1037.5,124.5 1037.5,122.0 1037.0,121.5 1036.5,116.5 1036.0,116.0 1036.0,114.0 1035.5,113.5 1035.5,109.5 1035.0,109.0 1034.5,94.0 1034.0,93.5 1034.0,90.5 1033.5,90.0 1033.5,88.0 1033.0,87.5 1032.5,84.0 1032.0,83.5 1031.5,81.0 1029.0,76.5 1025.0,73.0 1024.0,73.0Z" fill="#ff3838" fill-rule="evenodd"/>
<rect x="953.1" y="28.2" width="3" height="2.2" fill="#000"/>
<rect x="1006.5" y="28.2" width="3" height="2.2" fill="#000"/>
<rect x="929.4" y="50.2" width="3" height="2.2" fill="#000"/>
<rect x="979.8" y="50.2" width="3" height="2.2" fill="#000"/>
<rect x="1030.3" y="50.2" width="3" height="2.2" fill="#000"/>
<rect x="905.6" y="60.4" width="3" height="2.2" fill="#000"/>
<rect x="1054.2" y="60.4" width="3" height="2.2" fill="#000"/>
<rect x="917.2" y="78.5" width="3" height="2.2" fill="#000"/>
<rect x="979.8" y="78.5" width="3" height="2.2" fill="#000"/>
<rect x="1042.4" y="78.5" width="3" height="2.2" fill="#000"/>
<rect x="893.3" y="84.6" width="3" height="2.2" fill="#000"/>
<rect x="1066.3" y="84.6" width="3" height="2.2" fill="#000"/>
<rect x="887.5" y="110.7" width="3" height="2.2" fill="#000"/>
<rect x="914.5" y="110.7" width="3" height="2.2" fill="#000"/>
<rect x="979.8" y="110.7" width="3" height="2.2" fill="#000"/>
<rect x="1042.4" y="110.7" width="3" height="2.2" fill="#000"/>
<rect x="1069.1" y="110.7" width="3" height="2.2" fill="#000"/>
<rect x="893.3" y="136.9" width="3" height="2.2" fill="#000"/>
<rect x="917.2" y="142.6" width="3" height="2.2" fill="#000"/>
<rect x="979.8" y="142.6" width="3" height="2.2" fill="#000"/>
<rect x="1042.4" y="142.6" width="3" height="2.2" fill="#000"/>
<rect x="1066.3" y="136.9" width="3" height="2.2" fill="#000"/>
<rect x="905.6" y="161.0" width="3" height="2.2" fill="#000"/>
<rect x="1054.2" y="161.0" width="3" height="2.2" fill="#000"/>
<rect x="929.4" y="171.1" width="3" height="2.2" fill="#000"/>
<rect x="979.8" y="171.1" width="3" height="2.2" fill="#000"/>
<rect x="1030.3" y="171.1" width="3" height="2.2" fill="#000"/>
<rect x="953.1" y="193.1" width="3" height="2.2" fill="#000"/>
<rect x="1006.5" y="193.1" width="3" height="2.2" fill="#000"/>
<rect x="979.8" y="197.1" width="3" height="2.2" fill="#000"/>
<path d="M1197.5,36.5 1188.5,44.0 1188.0,44.0 1177.5,54.5 1177.5,55.0 1175.0,57.5 1175.0,58.0 1169.5,64.5 1168.0,67.5 1164.0,73.0 1162.5,76.5 1161.5,77.5 1159.5,82.0 1158.5,83.0 1156.0,88.0 1156.0,89.0 1152.0,96.5 1152.0,97.5 1151.5,98.0 1151.0,100.5 1150.0,102.0 1148.0,108.5 1140.5,118.0 1140.0,126.0 1139.5,126.5 1139.5,144.0 1140.0,144.5 1140.0,148.5 1140.5,149.0 1140.5,151.5 1141.0,152.0 1141.0,154.5 1141.5,155.0 1141.5,158.0 1142.0,158.5 1142.0,160.0 1142.5,160.5 1143.5,164.5 1144.5,166.0 1145.5,170.0 1146.5,171.5 1146.5,172.5 1147.5,173.5 1152.0,182.5 1161.0,191.5 1161.0,192.0 1162.5,192.5 1172.0,199.0 1177.5,201.5 1178.5,201.5 1180.0,202.5 1181.0,202.5 1182.5,203.5 1183.5,203.5 1185.0,204.5 1186.0,204.5 1188.0,205.5 1190.0,205.5 1190.5,206.0 1194.0,206.5 1194.5,207.0 1196.0,207.0 1196.5,207.5 1198.5,207.5 1201.0,208.5 1204.0,208.5 1204.5,209.0 1209.0,209.0 1209.5,209.5 1214.0,209.5 1214.5,210.0 1219.0,210.0 1219.5,210.5 1230.5,210.5 1231.0,211.0 1251.5,211.0 1252.0,210.5 1259.0,210.5 1259.5,210.0 1264.0,210.0 1264.5,209.5 1274.0,209.0 1274.5,208.5 1276.5,208.5 1277.0,208.0 1279.0,208.0 1279.5,207.5 1281.5,207.5 1282.0,207.0 1284.0,207.0 1284.5,206.5 1286.5,206.5 1287.0,206.0 1291.0,205.5 1308.5,198.5 1309.5,197.5 1320.0,192.0 1331.5,183.5 1342.0,171.5 1347.5,160.5 1347.5,159.5 1348.5,157.5 1349.0,154.0 1350.0,152.0 1350.0,150.5 1351.0,148.5 1351.5,144.5 1352.0,144.0 1352.0,140.5 1352.5,140.0 1352.5,136.5 1353.0,136.0 1353.0,132.5 1353.5,132.0 1353.0,117.5 1345.0,101.0 1344.0,100.0 1339.0,90.5 1332.0,80.0 1329.5,77.5 1329.5,77.0 1327.0,74.5 1327.0,74.0 1324.5,71.5 1324.5,71.0 1322.0,68.5 1322.0,68.0 1319.5,65.5 1319.5,65.0 1317.0,62.5 1317.0,62.0 1314.5,59.5 1314.5,59.0 1312.0,56.5 1309.5,53.0 1301.5,45.0 1301.0,45.0 1294.0,39.0 1290.5,37.0 1286.0,33.5 1279.0,30.0 1275.5,29.5 1275.0,29.0 1273.0,29.0 1272.5,28.5 1268.0,28.5 1267.5,28.0 1258.0,28.0 1257.5,27.5 1226.0,27.5 1225.5,28.0 1217.0,28.0 1216.5,28.5 1213.0,28.5 1210.5,30.0 1207.0,31.0 1202.5,33.5 1201.5,34.5 1200.0,35.0 1199.0,36.0Z" fill="#d6d6ff" fill-rule="evenodd"/>
<path d="M1197.5,36.5 1188.5,44.0 1188.0,44.0 1177.5,54.5 1177.5,55.0 1175.0,57.5 1175.0,58.0 1169.5,64.5 1168.0,67.5 1164.0,73.0 1162.5,76.5 1161.5,77.5 1159.5,82.0 1158.5,83.0 1156.0,88.0 1156.0,89.0 1152.0,96.5 1152.0,97.5 1151.5,98.0 1151.0,100.5 1150.0,102.0 1148.0,108.5 1140.5,118.0 1140.0,126.0 1139.5,126.5 1139.5,144.0 1140.0,144.5 1140.0,148.5 1140.5,149.0 1140.5,151.5 1141.0,152.0 1141.0,154.5 1141.5,155.0 1141.5,158.0 1142.0,158.5 1142.0,160.0 1142.5,160.5 1143.5,164.5 1144.5,166.0 1145.5,170.0 1146.5,171.5 1146.5,172.5 1147.5,173.5 1152.0,182.5 1159.5,190.0 1184.5,202.5 1185.5,202.5 1192.0,205.0 1199.5,206.5 1206.0,209.0 1214.0,209.5 1214.5,210.0 1219.0,210.0 1219.5,210.5 1230.5,210.5 1231.0,211.0 1251.5,211.0 1252.0,210.5 1259.0,210.5 1259.5,210.0 1264.0,210.0 1264.5,209.5 1274.0,209.0 1274.5,208.5 1276.5,208.5 1277.0,208.0 1279.0,208.0 1279.5,207.5 1281.5,207.5 1282.0,207.0 1284.0,207.0 1284.5,206.5 1286.5,206.5 1287.0,206.0 1291.0,205.5 1308.5,198.5 1309.5,197.5 1320.0,192.0 1331.5,183.5 1342.0,171.5 1347.5,160.5 1347.5,159.5 1348.5,157.5 1349.0,154.0 1350.0,152.0 1350.0,150.5 1351.0,148.5 1351.5,144.5 1352.0,144.0 1352.0,140.5 1352.5,140.0 1352.5,136.5 1353.0,136.0 1353.0,132.5 1353.5,132.0 1353.0,117.5 1345.0,101.0 1344.0,100.0 1339.0,90.5 1332.0,80.0 1329.5,77.5 1329.5,77.0 1327.0,74.5 1327.0,74.0 1324.5,71.5 1324.5,71.0 1322.0,68.5 1322.0,68.0 1319.5,65.5 1319.5,65.0 1317.0,62.5 1317.0,62.0 1314.5,59.5 1314.5,59.0 1312.0,56.5 1309.5,53.0 1301.5,45.0 1301.0,45.0 1294.0,39.0 1290.5,37.0 1286.0,33.5 1279.0,30.0 1275.5,29.5 1275.0,29.0 1273.0,29.0 1272.5,28.5 1268.0,28.5 1267.5,28.0 1258.0,28.0 1257.5,27.5 1226.0,27.5 1225.5,28.0 1217.0,28.0 1216.5,28.5 1213.0,28.5 1210.5,30.0 1207.0,31.0 1202.5,33.5 1201.5,34.5 1200.0,35.0 1199.0,36.0Z" fill="#f2f2ff" fill-rule="evenodd"/>
<path d="M1188.0,44.0 1175.0,57.5 1175.0,58.0 1169.5,64.5 1168.0,67.5 1164.0,73.0 1159.5,82.0 1158.5,83.0 1156.0,88.0 1156.0,89.0 1152.0,96.5 1152.0,97.5 1151.5,98.0 1151.0,100.5 1150.0,102.0 1148.0,108.5 1140.5,118.0 1140.0,126.0 1139.5,126.5 1139.5,144.0 1140.0,144.5 1140.0,148.5 1140.5,149.0 1141.5,157.5 1144.5,162.5 1146.0,164.0 1151.0,171.5 1158.5,180.0 1159.0,180.0 1162.5,183.5 1163.0,183.5 1169.0,188.5 1173.5,191.5 1175.0,192.0 1176.0,193.0 1177.5,193.5 1178.5,194.5 1185.5,198.0 1186.5,198.0 1188.0,199.0 1189.0,199.0 1195.5,201.5 1197.0,201.5 1201.0,203.0 1202.5,203.0 1203.0,203.5 1204.0,203.5 1215.0,207.5 1216.5,207.5 1217.0,208.0 1218.5,208.0 1221.0,209.0 1223.0,209.0 1223.5,209.5 1231.5,210.0 1232.0,210.5 1244.5,210.5 1245.0,210.0 1256.0,210.0 1256.5,210.5 1259.0,210.5 1259.5,210.0 1264.0,210.0 1264.5,209.5 1274.0,209.0 1274.5,208.5 1276.5,208.5 1277.0,208.0 1279.0,208.0 1279.5,207.5 1281.5,207.5 1282.0,207.0 1284.0,207.0 1284.5,206.5 1288.5,206.0 1291.5,204.5 1292.5,204.5 1295.0,203.0 1296.0,203.0 1308.5,196.5 1309.5,196.5 1312.0,195.0 1313.0,195.0 1322.0,190.5 1331.5,183.5 1334.0,181.0 1334.0,180.5 1342.0,171.5 1347.5,160.5 1347.5,159.5 1348.5,157.5 1349.0,154.0 1350.0,152.0 1350.0,150.5 1351.0,148.5 1351.5,144.5 1352.0,144.0 1352.0,140.5 1352.5,140.0 1352.5,136.5 1353.0,136.0 1353.0,132.5 1353.5,132.0 1353.0,117.5 1345.0,101.0 1344.0,100.0 1339.0,90.5 1332.0,80.0 1329.5,77.5 1329.5,77.0 1327.0,74.5 1327.0,74.0 1324.5,71.5 1324.5,71.0 1322.0,68.5 1322.0,68.0 1319.5,65.5 1319.5,65.0 1317.0,62.5 1317.0,62.0 1314.5,59.5 1314.5,59.0 1312.0,56.5 1309.5,53.0 1301.5,45.0 1301.0,45.0 1294.0,39.0 1290.5,37.0 1289.0,35.5 1286.0,33.5 1279.0,30.0 1275.5,29.5 1275.0,29.0 1273.0,29.0 1272.5,28.5 1268.0,28.5 1267.5,28.0 1258.0,28.0 1257.5,27.5 1226.0,27.5 1225.5,28.0 1217.0,28.0 1216.5,28.5 1213.0,28.5 1210.5,30.0 1209.5,30.0 1208.0,31.0 1207.0,31.0 1205.0,32.0 1204.0,33.0 1197.5,36.5 1188.5,44.0Z" fill="#fff0f0" fill-rule="evenodd"/>
<path d="M1207.0,31.0 1202.5,33.5 1201.5,34.5 1200.0,35.0 1199.0,36.0 1197.5,36.5 1195.5,38.5 1195.0,38.5 1187.0,46.5 1182.5,52.5 1172.0,63.0 1169.5,64.5 1168.0,67.5 1164.0,73.0 1162.5,76.5 1161.5,77.5 1160.0,82.5 1158.5,85.0 1156.5,87.0 1156.0,89.0 1152.0,96.5 1149.0,109.0 1145.0,116.5 1145.0,117.5 1143.5,120.5 1143.5,122.0 1142.5,124.5 1142.5,131.5 1143.0,132.0 1144.0,136.0 1146.5,140.5 1147.5,141.5 1148.0,143.0 1150.0,145.5 1151.5,149.0 1152.5,150.0 1152.5,151.0 1156.5,158.5 1156.5,159.5 1158.0,162.5 1159.0,163.5 1161.0,168.0 1162.0,169.0 1162.5,170.5 1163.5,171.5 1164.0,173.0 1167.0,177.5 1169.0,179.5 1169.0,180.0 1178.0,188.5 1182.5,191.5 1189.5,195.0 1190.5,195.0 1192.0,196.0 1193.0,196.0 1196.5,197.5 1198.0,197.5 1200.0,198.5 1201.5,198.5 1203.5,199.5 1205.0,199.5 1207.0,200.5 1212.0,201.5 1214.0,202.5 1215.5,202.5 1218.0,203.5 1220.5,203.5 1221.0,204.0 1224.5,204.0 1225.0,204.5 1237.5,204.5 1238.0,204.0 1242.5,204.0 1243.0,203.5 1259.5,204.0 1260.0,204.5 1268.5,204.5 1269.0,204.0 1273.5,204.0 1274.0,203.5 1279.5,203.0 1280.0,202.5 1283.5,202.0 1284.0,201.5 1289.5,200.0 1291.0,199.0 1294.5,198.0 1302.0,194.0 1303.0,194.0 1314.5,188.0 1324.0,181.5 1333.0,173.0 1333.0,172.5 1337.0,168.0 1342.0,160.5 1343.5,157.0 1345.5,154.0 1345.5,153.0 1348.5,147.0 1348.5,146.0 1350.5,141.0 1350.5,139.5 1351.5,137.0 1351.5,134.5 1352.0,134.0 1352.0,124.5 1351.5,124.0 1351.5,121.5 1351.0,121.0 1351.0,119.0 1350.5,118.5 1350.5,116.5 1349.5,114.5 1349.5,113.0 1348.0,110.0 1348.0,109.0 1346.5,106.5 1346.5,105.5 1342.5,97.5 1341.5,96.5 1340.5,94.0 1338.5,91.5 1335.5,86.0 1325.5,75.5 1324.0,72.0 1324.0,70.5 1312.0,56.5 1312.0,56.0 1310.0,54.0 1308.0,53.0 1299.0,44.0 1298.5,44.0 1296.0,41.5 1293.5,40.0 1285.0,33.0 1279.0,30.0 1275.5,29.5 1275.0,29.0 1273.0,29.0 1272.5,28.5 1268.0,28.5 1267.5,28.0 1258.0,28.0 1257.5,27.5 1226.0,27.5 1225.5,28.0 1217.0,28.0 1216.5,28.5 1213.0,28.5 1210.5,30.0Z" fill="#ffd2d2" fill-rule="evenodd"/>
<path d="M1315.0,60.0 1307.5,57.0 1296.5,47.5 1292.0,45.0 1291.0,44.0 1288.5,43.0 1287.5,42.0 1280.5,38.5 1279.5,38.5 1276.0,37.0 1274.0,37.0 1273.5,36.5 1265.0,36.5 1264.5,37.0 1262.5,37.0 1262.0,37.5 1258.5,38.0 1246.5,42.5 1243.5,42.5 1243.0,43.0 1241.5,43.0 1241.0,42.5 1237.0,42.5 1236.5,42.0 1234.5,42.0 1234.0,41.5 1232.0,41.5 1231.5,41.0 1230.0,41.0 1227.5,40.0 1222.0,39.5 1221.5,39.0 1219.0,39.0 1218.5,39.5 1214.5,40.0 1213.0,41.0 1212.0,41.0 1210.0,42.0 1209.0,43.0 1205.0,45.0 1203.5,46.5 1201.5,47.5 1196.0,52.0 1190.0,56.0 1188.5,56.5 1187.5,57.5 1186.0,58.0 1177.5,63.5 1171.0,66.5 1169.0,69.0 1167.5,72.0 1166.5,77.0 1166.0,77.5 1165.5,82.0 1164.0,85.0 1164.0,86.0 1159.5,92.5 1159.5,94.5 1159.0,95.0 1159.0,99.5 1158.5,100.0 1158.5,104.5 1158.0,105.0 1158.0,107.0 1157.5,107.5 1156.0,113.0 1154.0,117.0 1153.5,122.5 1154.0,123.0 1154.0,125.5 1154.5,126.0 1154.5,127.5 1155.5,129.0 1155.5,130.0 1159.5,137.5 1160.5,138.5 1161.5,140.5 1161.5,141.5 1162.5,143.0 1162.5,144.0 1163.5,146.0 1163.5,147.5 1164.5,149.5 1164.5,151.0 1165.5,153.0 1165.5,154.5 1166.0,155.0 1167.0,159.0 1168.0,160.5 1168.0,161.5 1169.0,163.0 1169.0,164.0 1170.0,165.5 1170.0,166.5 1171.0,168.0 1171.5,170.5 1173.0,173.0 1173.5,175.0 1177.5,181.0 1184.0,187.0 1187.0,189.0 1194.5,192.5 1195.5,192.5 1197.5,193.5 1199.0,193.5 1201.0,194.5 1202.5,194.5 1203.0,195.0 1204.5,195.0 1205.0,195.5 1206.5,195.5 1207.0,196.0 1214.5,197.5 1215.0,198.0 1217.0,198.0 1217.5,198.5 1221.0,198.5 1221.5,199.0 1230.5,199.0 1231.0,198.5 1236.5,198.5 1237.0,198.0 1241.5,198.0 1242.0,197.5 1253.0,197.5 1253.5,198.0 1260.0,198.0 1260.5,198.5 1273.0,198.5 1273.5,198.0 1279.0,197.5 1279.5,197.0 1283.0,196.5 1285.0,195.5 1286.5,195.5 1287.0,195.0 1289.5,194.5 1291.0,193.5 1293.5,193.0 1296.0,191.5 1297.0,191.5 1309.0,185.0 1316.5,179.5 1323.5,172.5 1323.5,172.0 1329.0,165.5 1331.5,161.0 1332.5,160.0 1336.5,152.0 1336.5,151.0 1337.5,149.5 1337.5,148.5 1340.0,142.0 1340.0,140.5 1341.0,138.0 1341.0,136.0 1341.5,135.5 1341.5,132.0 1342.0,131.5 1342.0,123.0 1341.5,122.5 1341.5,118.0 1341.0,117.5 1341.0,114.5 1340.5,114.0 1340.5,111.5 1340.0,111.0 1339.5,106.5 1339.0,106.0 1338.0,101.0 1337.5,100.5 1336.5,96.5 1335.5,95.0 1335.5,94.0 1333.0,89.0 1323.5,79.5 1322.5,78.0 1321.0,74.0 1321.0,67.0Z" fill="#ffb6b6" fill-rule="evenodd"/>
<path d="M1317.0,67.0 1313.5,64.0 1310.5,62.5 1309.5,62.5 1304.5,59.5 1298.5,54.0 1295.5,52.0 1290.5,49.5 1289.5,49.5 1288.0,48.5 1285.0,48.0 1283.0,47.0 1274.5,46.0 1274.0,46.5 1270.0,46.5 1269.5,47.0 1268.0,47.0 1267.5,47.5 1263.5,48.5 1252.5,54.0 1251.5,54.0 1247.5,56.0 1246.5,56.0 1243.0,57.5 1239.5,58.0 1239.0,58.5 1236.5,58.5 1236.0,59.0 1216.5,59.0 1216.0,59.5 1213.0,59.5 1212.5,60.0 1210.5,60.0 1210.0,60.5 1206.5,61.0 1204.5,62.0 1203.0,62.0 1201.0,63.0 1199.5,63.0 1199.0,63.5 1197.5,63.5 1195.0,64.5 1193.0,64.5 1190.5,65.5 1186.5,66.0 1184.5,67.0 1183.0,67.0 1182.5,67.5 1177.0,69.0 1174.5,70.5 1173.0,73.0 1173.0,74.0 1172.5,74.5 1172.5,77.0 1172.0,77.5 1172.0,83.5 1171.5,84.0 1171.5,89.0 1171.0,89.5 1171.5,102.0 1171.0,102.5 1171.0,104.5 1170.0,106.5 1170.0,108.0 1169.5,108.5 1169.5,110.0 1168.5,112.5 1168.5,114.5 1168.0,115.0 1167.5,124.5 1168.0,125.0 1168.0,127.5 1168.5,128.0 1170.0,135.5 1171.5,139.5 1171.5,141.5 1172.5,144.0 1173.0,149.0 1173.5,149.5 1173.5,151.5 1174.0,152.0 1174.0,154.0 1175.0,156.5 1175.0,158.5 1175.5,159.0 1176.5,164.5 1177.5,166.5 1177.5,168.0 1178.0,168.5 1179.0,172.5 1183.0,179.5 1187.5,184.0 1190.5,186.0 1194.5,188.0 1195.5,188.0 1199.0,189.5 1200.5,189.5 1201.0,190.0 1202.5,190.0 1205.0,191.0 1207.0,191.0 1207.5,191.5 1209.5,191.5 1210.0,192.0 1216.0,192.5 1216.5,193.0 1229.5,193.0 1230.0,192.5 1234.5,192.5 1235.0,192.0 1239.0,192.0 1239.5,191.5 1258.0,191.5 1258.5,192.0 1267.0,192.0 1267.5,192.5 1279.0,191.5 1279.5,191.0 1281.5,191.0 1282.0,190.5 1286.0,190.0 1286.5,189.5 1293.5,187.5 1296.0,186.0 1297.0,186.0 1302.5,183.0 1308.0,179.0 1315.0,172.0 1322.5,161.5 1326.5,153.5 1326.5,152.5 1327.5,151.0 1327.5,150.0 1328.5,148.0 1329.0,144.5 1329.5,144.0 1329.5,142.0 1330.0,141.5 1330.0,139.5 1330.5,139.0 1330.5,136.5 1331.0,136.0 1331.0,132.0 1331.5,131.5 1331.5,100.5 1331.0,100.0 1331.0,97.5 1330.5,97.0 1330.0,94.0 1328.0,90.5 1323.0,86.0 1323.0,85.5 1320.5,83.0 1318.0,78.5 1317.5,74.5 1317.0,74.0Z" fill="#ff9898" fill-rule="evenodd"/>
<path d="M1310.0,70.0 1307.0,67.0 1300.0,62.0 1296.0,58.0 1292.0,56.0 1287.0,55.5 1286.5,55.0 1282.0,55.0 1281.5,55.5 1278.5,55.5 1278.0,56.0 1274.0,57.0 1269.5,59.5 1262.5,65.5 1262.5,66.0 1258.5,70.5 1257.0,73.5 1256.0,74.5 1252.0,83.0 1252.0,84.0 1247.0,93.0 1245.5,95.0 1241.0,98.5 1238.0,99.0 1237.5,99.5 1233.5,99.0 1228.0,96.5 1213.0,85.5 1207.5,83.0 1202.5,82.0 1202.0,81.5 1193.5,81.5 1191.0,82.5 1189.5,84.0 1188.5,86.0 1188.0,90.5 1187.5,91.0 1187.5,95.0 1187.0,95.5 1186.5,101.5 1186.0,102.0 1185.0,107.0 1182.0,115.0 1182.0,116.5 1181.5,117.0 1181.5,120.5 1181.0,121.0 1181.0,132.5 1181.5,133.0 1181.5,144.5 1182.0,145.0 1182.0,153.5 1182.5,154.0 1182.5,159.0 1183.0,159.5 1183.0,163.0 1183.5,163.5 1183.5,166.0 1184.0,166.5 1184.5,170.0 1185.0,170.5 1185.5,173.0 1188.0,177.5 1191.5,181.0 1197.0,184.0 1198.5,184.0 1199.0,184.5 1202.5,185.0 1203.0,185.5 1205.0,185.5 1205.5,186.0 1220.0,187.0 1220.5,186.5 1226.5,186.5 1227.0,186.0 1230.5,186.0 1231.0,185.5 1234.0,185.5 1234.5,185.0 1245.5,184.5 1246.0,184.0 1260.5,184.5 1261.0,185.0 1269.0,185.0 1269.5,185.5 1272.5,185.5 1273.0,185.0 1279.0,185.0 1279.5,184.5 1282.5,184.5 1283.0,184.0 1287.5,183.5 1289.5,182.5 1292.5,182.0 1294.0,181.0 1295.0,181.0 1297.0,180.0 1302.5,176.0 1306.0,172.5 1306.0,172.0 1310.0,167.5 1312.5,163.0 1313.5,162.0 1314.5,159.5 1315.5,158.5 1319.0,149.5 1319.5,145.5 1320.0,145.0 1320.0,142.5 1320.5,142.0 1320.5,118.5 1321.0,118.0 1321.0,114.0 1321.5,113.5 1322.0,107.5 1322.5,107.0 1322.5,99.0 1322.0,98.5 1322.0,97.0 1321.0,94.5 1314.0,84.0 1314.0,83.0 1312.5,80.0 1311.0,72.0Z" fill="#ff7878" fill-rule="evenodd"/>
<path d="M1297.5,72.0 1292.5,68.5 1289.0,68.0 1288.5,68.5 1286.0,69.0 1282.0,73.0 1280.0,76.5 1275.0,82.0 1270.5,88.5 1266.5,96.5 1266.5,97.5 1265.5,99.0 1265.0,101.5 1264.0,103.0 1263.5,105.5 1262.5,107.0 1262.5,108.0 1261.5,109.5 1260.5,113.0 1257.0,119.5 1254.0,123.5 1248.5,128.5 1247.0,129.0 1245.0,130.5 1244.0,130.5 1242.0,131.5 1237.0,132.0 1236.5,131.5 1233.0,131.5 1232.5,131.0 1229.0,130.5 1225.5,129.0 1224.0,129.0 1223.5,128.5 1222.5,128.5 1220.5,127.5 1219.0,127.5 1218.5,127.0 1217.0,127.0 1216.5,126.5 1214.5,126.5 1214.0,126.0 1208.5,126.0 1208.0,126.5 1206.5,126.5 1204.0,127.5 1199.5,131.5 1198.0,133.5 1195.5,138.5 1195.5,139.5 1193.0,146.0 1193.0,148.0 1192.5,148.5 1192.0,153.0 1191.5,153.5 1191.5,157.5 1191.0,158.0 1191.0,166.0 1191.5,166.5 1192.0,171.0 1193.0,172.5 1193.0,173.5 1196.0,177.0 1199.5,178.5 1204.5,179.0 1205.0,179.5 1215.0,179.5 1215.5,179.0 1219.0,179.0 1219.5,178.5 1222.0,178.5 1222.5,178.0 1229.5,177.0 1232.0,176.0 1237.0,175.5 1237.5,175.0 1241.0,175.0 1241.5,174.5 1253.5,174.5 1254.0,175.0 1258.0,175.0 1258.5,175.5 1262.0,175.5 1262.5,176.0 1270.0,176.5 1270.5,177.0 1281.5,177.0 1282.0,176.5 1285.0,176.5 1285.5,176.0 1287.5,176.0 1288.0,175.5 1291.0,175.0 1295.5,172.5 1300.5,167.5 1305.5,160.0 1309.5,150.5 1309.5,148.5 1310.0,148.0 1310.0,137.5 1309.5,137.0 1309.5,134.5 1309.0,134.0 1308.5,129.5 1308.0,129.0 1308.0,127.5 1307.0,125.0 1307.0,123.0 1306.5,122.5 1306.5,120.5 1306.0,120.0 1306.0,114.5 1306.5,114.0 1307.0,109.5 1308.0,107.0 1308.0,104.0 1308.5,103.5 1308.0,96.5 1307.0,94.5 1307.0,93.0 1305.0,89.0 1305.0,88.0 1304.5,87.5 1302.5,80.5 1301.5,79.0 1301.5,78.0Z" fill="#ff5757" fill-rule="evenodd"/>
<path d="M1282.5,128.0 1282.0,128.5 1280.0,128.5 1278.0,129.5 1271.0,136.0 1266.5,142.5 1265.0,145.5 1265.0,146.5 1264.0,148.5 1264.0,150.5 1263.5,151.0 1264.0,155.5 1267.0,160.0 1272.0,163.0 1273.0,163.0 1275.0,164.0 1277.0,164.0 1277.5,164.5 1282.0,164.5 1282.5,164.0 1284.5,164.0 1288.0,162.5 1291.5,159.5 1294.5,154.5 1294.5,153.5 1295.5,151.5 1295.5,149.0 1296.0,148.5 1295.0,141.5 1293.0,137.0 1288.5,131.0 1286.5,129.5Z" fill="#ff3838" fill-rule="evenodd"/>
<rect x="1217.0" y="33.3" width="3" height="2.2" fill="#000"/>
<rect x="1270.4" y="33.3" width="3" height="2.2" fill="#000"/>
<rect x="1193.3" y="55.3" width="3" height="2.2" fill="#000"/>
<rect x="1243.7" y="55.3" width="3" height="2.2" fill="#000"/>
<rect x="1294.2" y="55.3" width="3" height="2.2" fill="#000"/>
<rect x="1169.5" y="65.5" width="3" height="2.2" fill="#000"/>
<rect x="1318.1" y="65.5" width="3" height="2.2" fill="#000"/>
<rect x="1181.1" y="83.6" width="3" height="2.2" fill="#000"/>
<rect x="1243.7" y="83.6" width="3" height="2.2" fill="#000"/>
<rect x="1306.3" y="83.6" width="3" height="2.2" fill="#000"/>
<rect x="1157.2" y="89.7" width="3" height="2.2" fill="#000"/>
<rect x="1330.2" y="89.7" width="3" height="2.2" fill="#000"/>
<rect x="1151.4" y="115.8" width="3" height="2.2" fill="#000"/>
<rect x="1178.4" y="115.8" width="3" height="2.2" fill="#000"/>
<rect x="1243.7" y="115.8" width="3" height="2.2" fill="#000"/>
<rect x="1306.3" y="115.8" width="3" height="2.2" fill="#000"/>
<rect x="1333.0" y="115.8" width="3" height="2.2" fill="#000"/>
<rect x="1157.2" y="142.0" width="3" height="2.2" fill="#000"/>
<rect x="1181.1" y="147.7" width="3" height="2.2" fill="#000"/>
<rect x="1243.7" y="147.7" width="3" height="2.2" fill="#000"/>
<rect x="1306.3" y="147.7" width="3" height="2.2" fill="#000"/>
<rect x="1330.2" y="142.0" width="3" height="2.2" fill="#000"/>
<rect x="1169.5" y="166.1" width="3" height="2.2" fill="#000"/>
<rect x="1318.1" y="166.1" width="3" height="2.2" fill="#000"/>
<rect x="1193.3" y="176.2" width="3" height="2.2" fill="#000"/>
<rect x="1243.7" y="176.2" width="3" height="2.2" fill="#000"/>
<rect x="1294.2" y="176.2" width="3" height="2.2" fill="#000"/>
<rect x="1217.0" y="198.2" width="3" height="2.2" fill="#000"/>
<rect x="1270.4" y="198.2" width="3" height="2.2" fill="#000"/>
<rect x="1243.7" y="202.2" width="3" height="2.2" fill="#000"/>
</svg>
</body></html>
